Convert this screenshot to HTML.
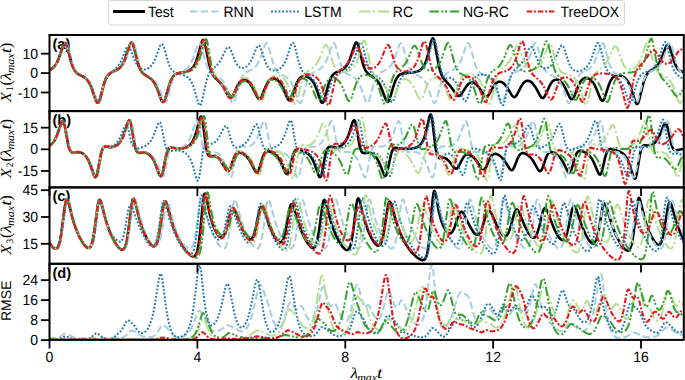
<!DOCTYPE html>
<html><head><meta charset="utf-8"><style>
html,body{margin:0;padding:0;background:#fff;}
svg{display:block;text-rendering:geometricPrecision;}
.t{font-family:"Liberation Sans",sans-serif;font-size:14px;fill:#000;}
.m{font-family:"Liberation Serif",serif;font-size:14px;fill:#000;}
</style></head><body>
<svg width="685" height="380" viewBox="0 0 685 380">
<defs>
<clipPath id="c0"><rect x="49.5" y="35.0" width="634.3" height="76.1"/></clipPath>
<clipPath id="c1"><rect x="49.5" y="111.1" width="634.3" height="76.30000000000001"/></clipPath>
<clipPath id="c2"><rect x="49.5" y="187.4" width="634.3" height="76.4"/></clipPath>
<clipPath id="c3"><rect x="49.5" y="263.8" width="634.3" height="76.09999999999997"/></clipPath>
</defs>
<text class="t" x="52.4" y="48.8" style="font-weight:bold;font-size:14.7px">(a)</text>
<text class="t" x="52.4" y="124.9" style="font-weight:bold;font-size:14.7px">(b)</text>
<text class="t" x="52.4" y="201.2" style="font-weight:bold;font-size:14.7px">(c)</text>
<text class="t" x="52.4" y="277.6" style="font-weight:bold;font-size:14.7px">(d)</text>
<g clip-path="url(#c0)" fill="none" stroke-linejoin="round">
<path d="M47.7 71.0 L50.4 69.7 L52.5 68.4 L54.2 66.7 L55.9 64.5 L57.3 61.9 L58.7 58.6 L63.4 44.9 L64.4 43.3 L64.9 43.0 L65.4 43.1 L66.2 44.1 L67.0 46.2 L71.4 62.8 L72.6 66.5 L74.0 69.5 L75.4 71.6 L77.0 73.2 L78.7 74.4 L82.6 76.3 L84.4 77.4 L86.3 79.0 L88.0 81.0 L89.7 83.8 L91.2 87.2 L96.0 100.9 L97.0 102.5 L97.5 102.8 L97.9 102.8 L98.8 101.9 L99.8 99.6 L104.0 83.8 L105.4 79.9 L106.7 77.0 L108.2 74.9 L109.8 73.4 L111.5 72.3 L116.0 70.4 L118.0 69.3 L120.0 67.7 L121.8 65.6 L123.5 62.8 L125.1 59.2 L129.9 44.6 L130.9 43.0 L131.3 42.6 L131.7 42.6 L132.1 42.8 L132.7 43.5 L133.6 45.9 L137.8 62.7 L139.2 66.9 L140.5 69.9 L141.8 72.0 L143.3 73.6 L144.9 74.9 L150.2 78.1 L152.0 79.7 L153.5 81.6 L155.0 84.1 L156.6 87.3 L161.3 100.0 L162.3 101.6 L162.8 102.0 L163.3 102.0 L163.8 101.7 L164.3 101.1 L165.3 98.8 L168.9 86.2 L170.5 81.5 L171.9 78.4 L173.4 76.1 L175.1 74.6 L177.2 73.5 L179.4 72.9 L185.6 71.8 L188.9 70.6 L191.6 68.8 L193.9 66.0 L195.6 62.7 L197.2 58.4 L201.7 42.0 L202.4 40.3 L202.8 39.9 L203.2 39.8 L203.6 40.0 L204.0 40.7 L204.9 43.2 L209.2 64.4 L210.6 69.4 L212.0 73.1 L213.1 75.2 L214.5 77.1 L219.4 82.0 L221.6 84.6 L223.7 87.9 L227.8 95.5 L228.8 96.9 L229.7 97.6 L230.5 97.8 L231.2 97.6 L231.8 97.1 L232.6 96.1 L233.9 93.7 L237.3 86.0 L239.5 82.5 L240.7 81.3 L241.8 80.5 L242.9 80.0 L244.2 79.9 L245.6 80.2 L247.0 80.9 L248.4 81.9 L249.7 83.3 L252.4 87.4 L257.4 97.3 L258.6 98.7 L259.2 98.9 L259.8 98.8 L260.8 97.9 L261.8 96.1 L265.9 86.0 L268.1 81.8 L269.4 80.2 L270.7 79.2 L272.0 78.6 L273.5 78.4 L275.2 78.8 L276.8 79.6 L278.5 81.0 L280.0 82.7 L281.4 85.0 L282.8 87.6 L287.4 98.4 L288.6 100.0 L289.1 100.3 L289.6 100.3 L290.7 99.4 L291.7 97.5 L295.9 85.1 L297.1 82.3 L298.3 80.1 L299.7 78.3 L301.2 77.0 L302.9 76.3 L304.7 76.2 L307.0 76.6 L309.2 77.8 L311.3 79.5 L313.0 81.7 L314.6 84.4 L316.0 87.7 L320.5 100.6 L321.4 102.3 L321.9 102.7 L322.4 102.8 L322.8 102.7 L323.3 102.1 L324.3 99.8 L328.6 83.8 L330.0 79.9 L331.4 77.0 L332.8 74.9 L334.4 73.4 L336.3 72.3 L340.7 70.5 L342.7 69.4 L344.7 67.8 L346.5 65.7 L348.3 62.8 L349.9 59.2 L354.8 44.5 L355.6 43.0 L356.0 42.6 L356.4 42.5 L356.9 42.7 L357.4 43.3 L358.3 45.6 L362.6 62.9 L364.0 67.0 L365.3 70.1 L366.6 72.1 L368.1 73.8 L369.7 75.0 L374.8 78.2 L376.5 79.8 L378.1 81.7 L379.6 84.1 L381.1 87.3 L385.8 99.7 L386.8 101.4 L387.3 101.8 L387.7 101.9 L388.2 101.6 L388.7 101.0 L389.8 98.6 L393.5 86.1 L395.2 81.2 L396.8 78.0 L398.5 75.8 L400.4 74.3 L402.8 73.5 L405.4 73.1 L413.2 72.4 L417.3 71.5 L419.0 70.8 L420.5 69.8 L421.9 68.6 L423.1 67.1 L424.8 64.2 L426.4 60.1 L428.0 54.5 L431.1 41.4 L432.0 39.1 L432.4 38.5 L432.7 38.3 L433.2 38.5 L433.6 39.1 L434.4 41.8 L438.8 65.4 L440.2 71.0 L441.7 75.2 L442.7 77.1 L443.9 78.9 L450.2 85.8 L456.0 93.9 L457.3 95.3 L458.6 95.9 L459.3 95.9 L460.0 95.6 L461.3 94.3 L466.0 86.9 L468.0 84.3 L470.0 82.9 L472.1 82.4 L473.2 82.6 L474.3 83.0 L476.6 84.6 L479.0 87.5 L484.2 95.2 L485.6 96.4 L486.3 96.5 L487.0 96.4 L488.0 95.7 L489.1 94.4 L493.3 86.9 L495.3 84.0 L496.4 82.9 L497.5 82.2 L498.6 81.8 L499.8 81.7 L501.0 81.9 L502.2 82.3 L503.4 83.2 L504.6 84.3 L507.1 87.5 L512.0 95.6 L513.4 96.9 L514.0 97.2 L514.6 97.2 L515.7 96.5 L516.8 95.0 L521.1 86.6 L523.1 83.4 L524.2 82.3 L525.4 81.4 L526.6 80.9 L527.8 80.7 L529.1 81.0 L530.5 81.6 L531.8 82.6 L533.1 83.9 L535.7 87.5 L540.5 96.4 L541.8 97.8 L542.9 98.1 L544.0 97.4 L545.1 95.7 L549.4 86.2 L551.5 82.6 L552.7 81.2 L553.9 80.3 L555.1 79.7 L556.4 79.6 L557.9 79.8 L559.4 80.5 L560.9 81.7 L562.4 83.3 L565.0 87.5 L569.7 97.4 L570.9 98.9 L571.9 99.2 L572.4 99.0 L573.0 98.5 L574.1 96.7 L578.4 85.8 L580.6 81.5 L581.9 79.9 L583.1 78.8 L584.6 78.1 L586.1 77.9 L587.9 78.3 L589.7 79.2 L591.4 80.7 L593.0 82.6 L594.5 84.9 L595.8 87.6 L600.4 98.8 L601.5 100.4 L602.4 100.9 L603.0 100.6 L603.5 100.1 L604.5 98.2 L608.9 84.7 L610.1 81.8 L611.4 79.4 L612.8 77.5 L614.4 76.2 L616.3 75.5 L618.4 75.3 L621.1 75.8 L623.6 77.0 L625.8 78.8 L627.7 81.1 L629.3 84.0 L630.8 87.6 L635.4 101.9 L636.4 103.6 L636.8 103.9 L637.2 104.0 L638.1 103.1 L639.0 100.8 L643.3 83.2 L644.6 79.2 L645.9 76.0 L647.2 73.9 L648.6 72.2 L650.2 71.0 L655.3 67.5 L656.9 66.0 L658.3 64.2 L659.8 61.7 L661.3 58.7 L665.9 46.9 L666.8 45.4 L667.7 44.8 L668.2 44.9 L668.7 45.4 L669.8 47.3 L674.6 62.7 L676.1 66.3 L677.7 68.9 L679.8 70.8 L682.1 71.8 L685.4 72.0 L689.0 71.5" stroke="#000000" stroke-width="2.6"/>
<path d="M48.8 70.6 L51.1 69.4 L53.1 68.0 L54.9 66.2 L56.5 63.9 L58.0 61.3 L59.5 58.0 L64.2 45.0 L65.3 43.3 L65.9 43.0 L66.3 43.1 L67.2 44.2 L68.1 46.6 L72.2 63.0 L73.4 66.7 L74.7 69.7 L76.0 71.7 L77.5 73.3 L79.1 74.4 L82.9 76.4 L84.6 77.5 L86.5 79.1 L88.0 81.1 L89.6 83.7 L91.2 87.1 L96.0 100.8 L97.0 102.5 L97.5 102.8 L97.9 102.8 L98.8 102.0 L99.7 99.9 L104.1 83.5 L105.5 79.6 L106.9 76.8 L108.3 74.8 L109.9 73.3 L111.8 72.2 L116.3 70.4 L118.4 69.2 L120.6 67.7 L122.5 65.5 L124.4 62.7 L126.1 59.0 L131.2 44.6 L132.1 43.0 L132.6 42.6 L133.1 42.6 L133.5 42.9 L134.0 43.5 L134.9 45.8 L139.2 63.1 L140.6 67.3 L142.0 70.3 L143.3 72.3 L144.8 73.8 L146.4 75.0 L152.1 78.3 L154.0 80.0 L155.7 82.0 L157.4 84.6 L159.0 87.9 L163.8 100.2 L164.8 101.7 L165.6 102.0 L166.0 101.8 L166.5 101.3 L167.4 99.2 L171.6 83.5 L172.8 80.0 L174.0 77.4 L175.1 75.8 L176.4 74.6 L178.0 73.6 L182.4 71.7 L184.6 70.5 L186.8 68.7 L188.8 66.5 L190.8 63.2 L192.6 59.5 L197.6 45.2 L198.5 43.6 L199.0 43.2 L199.4 43.1 L199.9 43.4 L200.3 43.9 L201.4 46.3 L205.7 62.5 L207.1 66.5 L208.5 69.4 L209.9 71.5 L211.4 73.1 L213.2 74.2 L217.3 76.1 L219.3 77.3 L221.2 78.8 L223.0 80.9 L224.6 83.6 L226.3 87.2 L231.1 100.9 L232.0 102.6 L232.5 103.0 L233.0 103.1 L233.4 102.9 L233.9 102.3 L234.9 100.1 L239.3 83.6 L240.6 79.8 L242.0 76.8 L243.4 74.8 L245.1 73.1 L246.8 72.0 L251.0 70.0 L252.9 68.9 L254.9 67.3 L256.6 65.3 L258.3 62.6 L260.0 58.9 L264.8 45.2 L265.7 43.6 L266.1 43.2 L266.6 43.1 L267.1 43.3 L267.5 43.9 L268.5 46.2 L273.0 62.8 L274.3 66.5 L275.7 69.4 L277.1 71.5 L278.7 73.1 L280.5 74.2 L284.5 76.1 L286.5 77.3 L288.4 78.8 L290.2 80.9 L291.9 83.7 L293.5 87.1 L298.4 101.1 L299.3 102.7 L300.2 103.1 L300.6 102.9 L301.1 102.4 L302.1 100.1 L306.5 83.6 L307.8 79.9 L309.2 76.9 L310.6 74.8 L312.3 73.1 L314.0 72.0 L318.2 70.0 L320.1 68.9 L322.1 67.3 L323.8 65.3 L325.5 62.6 L327.1 59.0 L332.0 45.2 L332.9 43.6 L333.3 43.2 L333.8 43.1 L334.3 43.3 L334.7 43.9 L335.7 46.2 L340.2 62.7 L341.5 66.4 L342.9 69.4 L344.2 71.5 L345.9 73.1 L347.7 74.2 L351.8 76.2 L353.8 77.3 L355.7 78.9 L357.5 81.0 L359.1 83.7 L360.8 87.3 L365.6 101.1 L366.5 102.6 L367.3 103.1 L367.8 102.9 L368.3 102.4 L369.3 100.1 L373.7 83.6 L375.1 79.7 L376.5 76.7 L377.9 74.7 L379.5 73.1 L381.2 72.0 L385.4 70.1 L387.3 68.9 L389.3 67.3 L391.0 65.3 L392.8 62.4 L394.3 59.0 L399.1 45.3 L400.1 43.6 L400.5 43.2 L401.0 43.1 L401.5 43.3 L401.9 43.9 L402.9 46.2 L407.4 62.7 L408.7 66.4 L410.0 69.4 L411.4 71.4 L413.1 73.1 L414.9 74.2 L419.0 76.2 L421.0 77.3 L422.9 78.9 L424.7 81.0 L426.3 83.7 L428.0 87.3 L432.8 101.0 L433.7 102.6 L434.5 103.1 L435.0 102.9 L435.5 102.4 L436.5 100.2 L441.0 83.4 L442.3 79.7 L443.7 76.8 L445.1 74.7 L446.7 73.1 L448.5 72.0 L452.6 70.1 L454.5 68.9 L456.4 67.4 L458.2 65.3 L460.0 62.5 L461.5 59.1 L466.3 45.3 L467.3 43.6 L467.7 43.2 L468.2 43.1 L468.6 43.3 L469.1 43.8 L470.1 46.1 L474.6 62.6 L475.9 66.4 L477.2 69.3 L478.6 71.4 L480.3 73.1 L482.0 74.2 L486.2 76.2 L488.1 77.3 L490.1 78.9 L491.8 80.9 L493.5 83.6 L495.2 87.2 L500.0 101.0 L500.9 102.6 L501.7 103.1 L502.2 102.9 L502.8 102.3 L503.8 100.0 L508.2 83.4 L509.5 79.7 L510.9 76.8 L512.3 74.7 L513.9 73.1 L515.7 72.0 L519.8 70.1 L521.7 68.9 L523.6 67.4 L525.4 65.3 L527.2 62.5 L528.7 59.1 L533.6 45.1 L534.5 43.6 L535.4 43.1 L535.8 43.3 L536.3 43.8 L537.3 46.1 L541.8 62.6 L543.0 66.3 L544.4 69.3 L545.8 71.4 L547.5 73.1 L549.2 74.2 L553.4 76.2 L555.3 77.3 L557.3 78.9 L559.0 80.9 L560.8 83.8 L562.4 87.2 L567.2 101.0 L568.1 102.6 L568.9 103.1 L569.4 102.9 L569.9 102.3 L571.0 100.0 L575.4 83.5 L576.7 79.8 L578.1 76.8 L579.5 74.7 L581.1 73.1 L582.9 72.0 L587.0 70.0 L589.0 68.9 L590.9 67.3 L592.7 65.2 L594.3 62.5 L596.0 58.9 L600.8 45.2 L601.7 43.6 L602.6 43.1 L603.0 43.3 L603.5 43.8 L604.5 46.0 L608.9 62.5 L610.3 66.5 L611.7 69.5 L613.1 71.5 L614.7 73.1 L616.4 74.2 L620.6 76.1 L622.5 77.3 L624.5 78.9 L626.2 80.9 L628.0 83.8 L629.6 87.2 L634.4 100.9 L635.3 102.6 L635.8 103.0 L636.2 103.1 L636.7 102.9 L637.1 102.3 L638.2 100.0 L642.6 83.5 L643.9 79.8 L645.3 76.8 L646.7 74.8 L648.3 73.1 L650.1 72.0 L654.2 70.0 L656.2 68.9 L658.1 67.3 L659.9 65.3 L661.6 62.4 L663.2 58.9 L668.0 45.2 L668.9 43.6 L669.8 43.1 L670.2 43.3 L670.8 43.9 L671.8 46.3 L676.1 62.5 L677.4 66.3 L678.7 69.1 L680.2 71.4 L681.9 73.0 L683.8 74.3 L687.2 75.9" stroke="#a6cee3" stroke-width="2.0" stroke-dasharray="7.4 3.2"/>
<path d="M48.8 70.6 L51.0 69.4 L53.0 68.0 L54.7 66.2 L56.3 64.0 L57.7 61.4 L59.2 58.1 L63.8 45.1 L64.9 43.3 L65.4 43.0 L65.9 43.1 L66.7 44.2 L67.6 46.4 L71.7 62.8 L73.0 66.7 L74.4 69.7 L75.7 71.8 L77.2 73.3 L78.9 74.4 L83.0 76.5 L85.0 77.6 L87.0 79.3 L88.9 81.5 L90.6 84.3 L92.3 87.9 L97.0 101.0 L97.8 102.4 L98.3 102.8 L98.7 102.9 L99.5 102.0 L100.5 99.7 L104.4 83.9 L105.6 80.2 L106.8 77.2 L108.8 74.4 L113.2 70.9 L115.1 69.3 L117.3 66.8 L119.7 63.6 L121.9 59.6 L126.0 49.1 L126.7 47.5 L127.5 46.5 L128.1 46.2 L128.7 46.3 L129.3 46.8 L130.0 47.9 L134.8 60.6 L136.2 63.5 L137.7 65.8 L139.2 67.5 L140.9 68.7 L142.7 69.4 L144.6 69.5 L146.8 69.1 L148.9 68.0 L150.7 66.4 L152.5 64.2 L154.0 61.7 L155.4 58.6 L160.0 46.1 L161.0 44.4 L161.5 44.0 L161.9 44.0 L162.9 44.8 L163.8 46.8 L168.3 62.5 L169.6 66.1 L171.0 68.8 L172.6 70.9 L174.6 72.4 L176.7 73.3 L182.3 74.7 L185.1 75.7 L187.7 77.3 L189.8 79.5 L191.5 82.1 L193.0 85.4 L194.7 90.5 L198.2 102.8 L199.1 104.9 L199.6 105.4 L200.0 105.5 L200.4 105.2 L200.8 104.6 L201.8 102.0 L206.0 82.5 L207.4 77.8 L208.7 74.4 L209.9 72.2 L211.3 70.4 L216.7 65.5 L219.2 62.4 L221.6 58.4 L225.8 49.6 L226.7 48.1 L227.5 47.4 L228.1 47.1 L228.8 47.2 L229.5 47.8 L230.3 49.0 L231.5 51.7 L235.0 60.8 L236.2 63.2 L237.4 65.1 L238.6 66.5 L239.8 67.4 L241.2 68.0 L242.6 68.1 L244.3 67.7 L246.0 66.9 L247.7 65.5 L249.2 63.6 L250.7 61.4 L252.0 58.7 L256.8 47.4 L258.0 45.8 L258.6 45.5 L259.1 45.6 L260.0 46.6 L260.9 48.5 L265.2 61.4 L266.4 64.3 L267.6 66.6 L269.1 68.5 L270.7 69.8 L272.6 70.5 L274.7 70.6 L277.2 70.1 L279.6 68.9 L281.6 67.1 L283.5 64.8 L285.0 62.0 L286.5 58.6 L291.0 44.8 L292.0 43.1 L292.4 42.7 L292.8 42.6 L293.2 42.8 L293.7 43.5 L294.7 45.8 L299.0 62.9 L300.3 66.7 L301.6 69.8 L302.9 71.9 L304.4 73.6 L306.0 74.8 L311.5 78.1 L313.2 79.7 L314.8 81.6 L316.3 84.2 L317.8 87.4 L322.5 100.0 L323.4 101.6 L323.9 102.0 L324.3 102.1 L324.8 101.9 L325.3 101.4 L326.3 99.3 L330.8 83.9 L332.1 80.3 L333.5 77.6 L334.9 75.8 L336.5 74.4 L338.1 73.5 L342.6 72.1 L345.1 70.9 L347.9 68.9 L350.5 66.1 L352.4 63.2 L354.1 59.5 L359.1 44.5 L360.0 43.0 L360.7 42.5 L361.1 42.7 L361.6 43.3 L362.7 45.7 L367.0 63.0 L368.3 66.9 L369.6 69.9 L370.9 72.0 L372.4 73.7 L374.0 74.9 L379.3 78.2 L381.0 79.7 L382.5 81.6 L384.0 84.1 L385.6 87.3 L390.2 99.8 L391.2 101.5 L391.7 101.9 L392.2 102.0 L392.7 101.7 L393.2 101.1 L394.3 98.7 L397.9 86.0 L399.5 81.3 L401.0 78.3 L402.6 76.0 L404.4 74.5 L406.6 73.5 L408.9 73.0 L415.6 72.1 L419.1 71.0 L420.7 70.2 L422.1 69.2 L423.4 67.9 L424.5 66.4 L426.0 63.6 L427.4 60.0 L429.0 54.7 L432.3 42.0 L433.1 39.9 L433.5 39.3 L434.0 39.2 L434.4 39.5 L434.8 40.2 L435.7 42.9 L440.0 65.0 L441.8 72.1 L443.3 75.9 L444.3 77.5 L445.4 78.3 L446.6 78.5 L449.6 77.9 L451.0 78.1 L453.0 79.2 L455.0 81.1 L456.6 83.4 L458.1 86.2 L459.6 89.7 L462.9 98.1 L463.7 99.9 L464.5 100.9 L465.2 101.3 L465.7 101.2 L466.4 100.4 L467.1 99.2 L468.2 96.2 L472.0 83.8 L473.5 80.3 L474.9 77.9 L476.6 76.1 L478.5 75.0 L480.7 74.5 L483.5 74.5 L486.7 75.2 L489.3 76.5 L491.5 78.3 L493.5 80.8 L495.1 83.9 L496.6 87.8 L501.1 103.1 L501.9 104.9 L502.7 105.3 L503.1 105.1 L503.6 104.5 L504.5 101.9 L508.7 82.6 L510.1 78.0 L511.4 74.5 L512.6 72.4 L514.0 70.6 L519.6 65.6 L522.1 62.5 L524.6 58.3 L528.7 49.4 L529.7 47.9 L530.4 47.1 L531.1 46.9 L531.8 47.1 L532.5 47.7 L533.1 48.8 L534.3 51.4 L537.9 60.9 L539.1 63.4 L540.3 65.3 L541.4 66.7 L542.7 67.7 L544.1 68.3 L545.6 68.4 L547.4 68.0 L549.2 67.1 L550.9 65.7 L552.5 63.8 L553.9 61.5 L555.3 58.8 L560.0 47.1 L561.2 45.5 L561.8 45.2 L562.3 45.3 L563.1 46.2 L564.1 48.1 L568.4 61.6 L569.6 64.6 L570.9 67.0 L572.4 69.0 L574.1 70.3 L576.0 71.1 L578.4 71.2 L581.2 70.7 L583.8 69.5 L586.0 67.8 L588.0 65.4 L589.7 62.6 L591.4 58.8 L596.2 44.9 L597.1 43.4 L597.9 42.9 L598.3 43.0 L598.8 43.6 L599.9 46.0 L604.2 62.7 L605.4 66.5 L606.8 69.6 L608.2 71.7 L609.7 73.3 L611.4 74.5 L615.3 76.5 L617.1 77.6 L618.9 79.3 L620.5 81.2 L622.1 83.9 L623.7 87.2 L628.4 100.5 L629.3 102.1 L630.2 102.6 L630.6 102.5 L631.1 102.0 L632.1 99.8 L636.6 83.8 L637.9 80.0 L639.3 77.2 L640.7 75.1 L642.4 73.6 L644.4 72.5 L649.0 70.8 L651.2 69.7 L653.4 68.1 L655.3 65.9 L657.1 63.0 L658.8 59.1 L663.5 44.2 L664.4 42.5 L665.1 42.0 L665.5 42.1 L666.1 42.7 L667.0 45.0 L671.4 63.3 L672.8 67.5 L674.1 70.7 L675.5 72.9 L677.0 74.6 L682.2 78.3 L684.1 80.0 L685.7 81.9 L687.2 84.2" stroke="#1f78b4" stroke-width="2.0" stroke-dasharray="1.9 1.8"/>
<path d="M48.8 70.6 L51.1 69.3 L53.0 67.9 L54.6 66.2 L56.1 64.0 L57.5 61.5 L58.8 58.3 L63.3 45.0 L64.4 43.2 L65.0 43.0 L65.5 43.1 L66.2 44.2 L67.1 46.3 L71.3 62.6 L72.7 66.6 L74.0 69.5 L75.4 71.6 L77.0 73.2 L78.7 74.4 L82.6 76.3 L84.4 77.5 L86.3 79.0 L87.9 81.0 L89.6 83.7 L91.1 87.0 L96.0 100.8 L97.0 102.5 L97.5 102.8 L97.9 102.8 L98.8 102.0 L99.7 99.8 L104.0 83.7 L105.4 79.8 L106.7 77.0 L108.2 74.9 L109.8 73.3 L111.6 72.3 L115.9 70.4 L117.9 69.3 L120.0 67.7 L121.7 65.7 L123.5 62.7 L125.1 59.1 L130.0 44.6 L130.9 43.0 L131.3 42.6 L131.8 42.6 L132.6 43.4 L133.5 45.7 L137.9 62.8 L139.1 66.7 L140.5 69.8 L141.8 71.9 L143.3 73.6 L144.9 74.8 L150.2 78.1 L152.0 79.7 L153.5 81.6 L155.1 84.1 L156.6 87.4 L161.3 99.9 L162.3 101.6 L162.8 102.0 L163.2 102.0 L163.7 101.8 L164.2 101.2 L165.3 98.7 L168.9 86.1 L170.5 81.4 L171.9 78.3 L173.5 76.0 L175.2 74.5 L177.4 73.5 L179.5 72.9 L186.1 71.7 L190.0 70.4 L191.8 69.4 L193.3 68.2 L194.7 66.7 L196.0 65.1 L197.6 62.3 L199.1 58.7 L200.8 53.6 L203.7 42.3 L204.6 40.3 L205.2 39.8 L205.6 40.0 L206.0 40.7 L206.8 43.2 L210.5 64.5 L211.7 69.6 L213.0 73.5 L214.1 75.6 L215.2 77.4 L219.7 82.2 L221.9 84.9 L223.8 88.0 L227.6 95.2 L228.6 96.7 L229.5 97.5 L230.3 97.8 L231.0 97.7 L231.8 97.1 L232.6 96.0 L234.2 93.1 L238.1 84.2 L239.2 82.0 L240.4 80.3 L241.5 79.1 L242.6 78.4 L243.9 78.0 L245.3 77.9 L247.0 78.4 L248.7 79.3 L250.3 80.7 L251.9 82.6 L253.3 84.9 L254.7 87.6 L259.3 99.0 L260.5 100.6 L261.1 100.9 L261.6 100.8 L262.6 99.8 L263.5 97.8 L267.7 84.7 L268.9 81.8 L270.2 79.4 L271.7 77.4 L273.4 76.1 L275.4 75.4 L277.6 75.3 L279.9 75.8 L282.2 77.1 L284.3 79.1 L286.2 81.6 L287.6 84.3 L289.1 87.8 L293.6 101.8 L294.4 103.4 L294.8 103.9 L295.3 104.0 L295.7 103.8 L296.2 103.2 L297.1 100.9 L301.5 83.2 L302.7 79.2 L304.1 76.0 L305.4 73.9 L306.8 72.2 L308.3 70.9 L313.4 67.5 L315.0 65.9 L316.5 64.0 L319.0 59.6 L323.5 48.0 L324.4 46.1 L325.2 45.1 L325.9 44.8 L326.5 45.0 L327.1 45.7 L327.7 47.0 L328.8 50.0 L332.7 62.5 L334.1 65.9 L335.6 68.5 L337.3 70.3 L339.4 71.4 L341.8 71.9 L344.8 71.8 L348.0 71.1 L350.7 69.9 L353.0 68.0 L354.9 65.4 L356.6 62.3 L358.1 58.3 L362.5 42.9 L363.3 41.1 L364.1 40.5 L364.5 40.7 L365.0 41.3 L365.9 43.9 L370.1 63.7 L371.5 68.5 L372.9 72.2 L374.1 74.3 L375.5 76.1 L380.7 81.0 L383.2 84.0 L385.6 87.9 L389.7 96.5 L390.7 98.0 L391.6 98.7 L392.2 98.8 L392.9 98.6 L394.3 96.8 L395.5 94.3 L398.9 85.7 L401.1 81.7 L402.0 80.5 L403.0 79.6 L404.0 79.1 L405.1 79.0 L406.5 79.3 L407.9 80.0 L409.5 81.3 L411.1 83.1 L412.4 85.1 L413.8 87.5 L418.6 97.8 L419.9 99.3 L420.5 99.5 L421.0 99.4 L421.9 98.6 L422.9 96.7 L427.1 85.6 L429.3 81.2 L430.6 79.5 L431.9 78.4 L433.4 77.7 L435.1 77.5 L436.9 77.9 L438.8 78.8 L440.6 80.3 L442.2 82.3 L443.6 84.6 L445.1 87.5 L449.7 99.3 L450.8 101.0 L451.3 101.3 L451.8 101.3 L452.8 100.4 L453.7 98.5 L458.1 84.3 L459.5 81.0 L460.8 78.5 L462.4 76.5 L464.3 75.2 L466.5 74.5 L469.2 74.4 L472.5 75.0 L475.4 76.2 L477.8 78.1 L479.8 80.6 L481.5 83.8 L483.0 87.7 L487.5 103.2 L488.4 104.9 L489.1 105.4 L489.6 105.2 L490.0 104.6 L490.9 102.1 L495.2 82.7 L496.5 77.9 L497.9 74.5 L499.1 72.3 L500.4 70.5 L506.0 65.5 L508.7 62.2 L510.9 58.3 L515.0 49.2 L516.5 46.7 L517.2 46.2 L517.9 46.2 L518.6 46.7 L519.3 47.9 L520.5 50.8 L524.2 61.4 L525.4 64.3 L526.7 66.4 L528.0 68.0 L529.5 69.0 L531.1 69.6 L532.8 69.7 L534.9 69.2 L537.0 68.0 L538.9 66.4 L540.6 64.2 L542.0 61.7 L543.5 58.5 L548.0 46.0 L549.0 44.3 L549.8 43.8 L550.3 43.9 L550.8 44.4 L551.8 46.6 L556.3 62.5 L557.6 66.2 L559.0 68.9 L560.5 71.0 L562.3 72.5 L564.3 73.5 L569.3 75.0 L571.6 76.0 L574.0 77.6 L575.9 79.8 L577.6 82.3 L579.1 85.6 L580.8 90.4 L584.2 102.0 L585.2 104.2 L585.6 104.7 L586.0 104.8 L586.5 104.6 L587.0 103.9 L587.9 101.4 L592.1 82.8 L593.4 78.5 L594.8 75.2 L596.0 73.1 L597.4 71.2 L603.3 66.3 L606.1 63.0 L608.7 58.4 L612.7 49.0 L614.2 46.7 L614.9 46.2 L615.6 46.2 L616.3 46.8 L617.1 48.0 L618.2 50.8 L622.0 61.5 L623.2 64.3 L624.5 66.4 L625.9 68.0 L627.3 69.0 L628.9 69.5 L630.6 69.5 L632.7 69.0 L634.9 67.8 L636.7 66.0 L638.4 63.7 L639.8 61.3 L641.1 58.1 L645.5 45.2 L646.3 43.6 L647.2 43.1 L647.6 43.2 L648.1 43.8 L649.1 46.0 L653.4 62.5 L654.7 66.3 L656.1 69.3 L657.4 71.4 L659.0 73.1 L660.8 74.3 L664.9 76.2 L666.8 77.4 L668.8 79.1 L670.5 81.1 L671.9 83.5 L673.3 86.6 L677.8 99.7 L678.7 101.6 L679.4 102.7 L680.0 103.0 L680.6 102.8 L681.2 102.0 L681.9 100.4 L683.0 96.7 L685.7 86.0 L687.2 81.3" stroke="#b2df8a" stroke-width="1.9" stroke-dasharray="11.3 2.6 2.2 2.6"/>
<path d="M48.8 70.6 L51.1 69.3 L53.0 67.9 L54.6 66.2 L56.1 64.0 L57.5 61.5 L58.8 58.3 L63.3 45.0 L64.4 43.2 L65.0 43.0 L65.5 43.1 L66.2 44.2 L67.1 46.3 L71.3 62.6 L72.7 66.6 L74.0 69.5 L75.4 71.6 L77.0 73.2 L78.7 74.4 L82.6 76.3 L84.4 77.5 L86.3 79.0 L87.9 81.0 L89.6 83.7 L91.1 87.0 L96.0 100.8 L97.0 102.5 L97.5 102.8 L97.9 102.8 L98.8 102.0 L99.7 99.8 L104.0 83.7 L105.4 79.8 L106.7 77.0 L108.2 74.9 L109.8 73.3 L111.6 72.3 L115.9 70.4 L117.9 69.3 L120.0 67.7 L121.7 65.7 L123.5 62.7 L125.1 59.1 L130.0 44.6 L130.9 43.0 L131.3 42.6 L131.8 42.6 L132.6 43.4 L133.5 45.7 L137.9 62.8 L139.1 66.7 L140.5 69.8 L141.8 71.9 L143.3 73.6 L144.9 74.8 L150.2 78.1 L152.0 79.7 L153.5 81.6 L155.1 84.1 L156.6 87.4 L161.3 99.9 L162.3 101.6 L162.8 102.0 L163.2 102.0 L163.7 101.8 L164.2 101.2 L165.3 98.7 L168.9 86.1 L170.6 81.2 L172.1 78.0 L173.7 75.8 L175.6 74.3 L177.8 73.3 L180.2 72.8 L186.6 72.1 L190.4 70.9 L192.2 70.0 L193.7 68.8 L195.2 67.4 L196.4 65.8 L198.1 62.8 L199.7 58.9 L201.3 53.7 L204.4 41.8 L205.2 39.7 L205.9 39.1 L206.3 39.4 L206.7 40.0 L207.4 42.5 L211.4 65.3 L212.7 70.4 L214.1 74.4 L215.2 76.4 L216.3 78.0 L223.6 85.6 L226.0 88.9 L230.1 95.2 L231.0 96.3 L231.9 96.9 L232.5 97.0 L233.1 96.8 L234.3 95.4 L238.6 86.6 L240.6 83.4 L241.6 82.3 L242.6 81.6 L243.7 81.2 L244.9 81.0 L246.1 81.2 L247.4 81.8 L248.6 82.7 L249.9 83.9 L252.5 87.3 L257.5 96.3 L258.9 97.6 L259.6 97.8 L260.2 97.7 L261.2 96.9 L262.2 95.3 L266.3 86.5 L268.4 82.9 L269.6 81.6 L270.8 80.6 L272.0 80.1 L273.3 80.0 L274.8 80.2 L276.2 80.9 L277.6 82.0 L279.0 83.5 L281.6 87.5 L286.4 97.0 L287.6 98.5 L288.2 98.8 L288.7 98.8 L289.8 98.1 L290.9 96.4 L295.1 85.9 L297.3 81.8 L298.6 80.3 L299.8 79.2 L301.2 78.7 L302.6 78.5 L304.3 78.8 L306.0 79.7 L307.6 81.1 L309.2 82.9 L310.5 85.0 L311.9 87.6 L316.5 98.4 L317.7 99.9 L318.2 100.2 L318.7 100.3 L319.7 99.5 L320.7 97.7 L324.7 86.3 L326.9 81.7 L328.2 80.0 L329.6 78.7 L331.2 77.9 L332.8 77.7 L334.6 78.1 L336.5 79.0 L338.2 80.5 L339.9 82.4 L341.3 84.8 L342.7 87.5 L347.3 99.1 L348.4 100.7 L349.4 101.1 L349.9 100.8 L350.4 100.2 L351.4 98.2 L355.7 84.7 L357.0 81.5 L358.3 79.1 L359.8 77.1 L361.5 75.8 L363.4 75.1 L365.7 74.9 L368.7 75.4 L371.4 76.6 L373.7 78.5 L375.6 80.9 L377.2 83.8 L378.8 87.6 L383.3 102.4 L384.2 104.0 L385.0 104.6 L385.4 104.4 L385.9 103.7 L386.8 101.4 L391.1 82.9 L392.4 78.7 L393.8 75.4 L395.0 73.4 L396.4 71.6 L397.8 70.3 L402.6 66.6 L404.1 65.1 L405.5 63.3 L407.8 59.2 L412.1 48.8 L412.9 47.2 L413.7 46.2 L414.4 45.7 L415.1 45.8 L415.7 46.4 L416.5 47.7 L417.7 50.7 L421.3 61.7 L422.6 64.6 L423.9 66.8 L425.2 68.4 L426.7 69.6 L428.4 70.2 L430.4 70.3 L432.8 69.7 L435.0 68.6 L437.0 66.8 L438.8 64.5 L440.3 61.8 L441.8 58.4 L446.2 45.2 L447.2 43.6 L448.0 43.0 L448.5 43.2 L449.0 43.8 L450.0 46.1 L454.2 62.3 L455.5 66.1 L456.8 69.0 L458.2 71.3 L459.8 73.0 L461.6 74.2 L465.7 76.2 L467.4 77.3 L469.1 78.8 L470.7 80.7 L472.2 83.4 L473.6 87.0 L478.2 101.8 L479.1 103.6 L479.6 104.0 L480.0 104.1 L480.4 103.9 L480.9 103.3 L481.9 100.9 L486.2 83.0 L487.4 79.0 L488.8 75.8 L490.1 73.7 L491.5 72.0 L493.0 70.7 L498.0 67.3 L499.6 65.7 L501.0 63.8 L503.5 59.4 L507.9 48.3 L508.8 46.4 L509.6 45.4 L510.2 45.0 L510.8 45.2 L511.5 45.9 L512.2 47.2 L513.3 50.2 L517.0 62.2 L518.4 65.4 L519.8 67.9 L521.4 69.7 L523.2 70.9 L525.3 71.4 L527.9 71.4 L530.8 70.7 L533.4 69.5 L535.5 67.7 L537.4 65.2 L538.9 62.4 L540.4 58.5 L544.9 43.5 L545.8 41.8 L546.5 41.2 L547.0 41.4 L547.5 42.1 L548.4 44.6 L552.6 63.4 L554.0 67.9 L555.3 71.3 L556.5 73.4 L557.9 75.1 L563.7 80.1 L566.5 83.4 L569.0 87.9 L573.1 97.1 L574.5 99.3 L575.3 99.8 L575.9 99.8 L576.6 99.2 L577.4 98.0 L578.7 95.1 L582.3 84.8 L583.5 82.2 L584.8 80.1 L586.0 78.6 L587.4 77.6 L588.9 77.1 L590.5 77.0 L592.6 77.5 L594.5 78.5 L596.3 80.1 L598.0 82.2 L599.4 84.7 L600.8 87.6 L605.4 99.8 L606.3 101.3 L607.2 101.9 L607.7 101.7 L608.2 101.2 L609.3 98.8 L613.1 86.0 L614.8 81.1 L616.3 78.1 L618.0 75.8 L619.9 74.4 L622.1 73.5 L624.5 73.1 L632.0 72.3 L635.9 71.4 L637.6 70.6 L639.0 69.6 L640.3 68.4 L641.5 66.9 L643.2 63.9 L644.7 60.1 L646.3 54.6 L649.4 41.7 L650.4 39.3 L650.8 38.7 L651.1 38.6 L651.6 38.8 L652.0 39.6 L652.8 42.3 L657.0 64.6 L658.3 70.0 L659.8 74.1 L660.9 76.4 L662.1 78.2 L668.8 85.6 L674.8 94.5 L675.9 95.7 L676.9 96.2 L677.9 96.2 L678.9 95.6 L680.6 93.5 L684.9 86.1 L687.2 83.4" stroke="#33a02c" stroke-width="2.0" stroke-dasharray="9.5 2.5 2 1.6 2 2.8"/>
<path d="M48.8 70.6 L51.1 69.3 L53.0 67.9 L54.6 66.2 L56.1 64.0 L57.5 61.5 L58.8 58.3 L63.3 45.0 L64.4 43.2 L65.0 43.0 L65.5 43.1 L66.2 44.2 L67.1 46.3 L71.3 62.6 L72.7 66.6 L74.0 69.5 L75.4 71.6 L77.0 73.2 L78.7 74.4 L82.6 76.3 L84.4 77.5 L86.3 79.0 L87.9 81.0 L89.6 83.7 L91.1 87.0 L96.0 100.8 L97.0 102.5 L97.5 102.8 L97.9 102.8 L98.8 102.0 L99.7 99.8 L104.0 83.7 L105.4 79.8 L106.7 77.0 L108.2 74.9 L109.8 73.3 L111.6 72.3 L115.9 70.4 L117.9 69.3 L120.0 67.7 L121.7 65.7 L123.5 62.7 L125.1 59.1 L130.0 44.6 L130.9 43.0 L131.3 42.6 L131.8 42.6 L132.6 43.4 L133.5 45.7 L137.9 62.8 L139.2 67.0 L140.6 70.0 L141.8 72.0 L143.4 73.7 L145.0 74.9 L150.4 78.2 L152.2 79.8 L153.7 81.6 L155.3 84.2 L156.8 87.3 L161.7 100.0 L162.7 101.6 L163.2 102.0 L163.6 102.0 L164.1 101.8 L164.6 101.1 L165.7 98.6 L169.2 86.1 L170.8 81.3 L172.2 78.3 L173.7 76.0 L175.4 74.5 L177.4 73.5 L179.5 72.9 L185.7 71.8 L189.2 70.5 L190.8 69.6 L192.2 68.4 L194.6 65.4 L196.4 62.1 L198.0 57.9 L202.5 41.8 L203.3 40.2 L204.0 39.8 L204.7 40.7 L205.6 43.3 L209.5 63.9 L210.8 68.9 L212.1 72.6 L213.2 74.8 L214.6 76.7 L219.6 81.5 L221.9 84.3 L224.1 87.9 L228.1 95.8 L229.2 97.3 L230.1 98.1 L230.8 98.3 L231.4 98.1 L232.1 97.5 L232.9 96.4 L234.2 93.9 L237.5 85.9 L239.8 82.0 L240.9 80.8 L242.1 79.9 L243.4 79.4 L244.7 79.3 L246.2 79.6 L247.7 80.3 L249.2 81.5 L250.6 83.1 L252.0 85.0 L253.3 87.4 L258.1 97.8 L259.4 99.3 L260.0 99.5 L260.6 99.4 L261.5 98.5 L262.6 96.7 L266.6 85.7 L268.9 81.2 L270.2 79.5 L271.5 78.3 L273.1 77.7 L274.7 77.5 L276.5 77.9 L278.4 78.8 L280.2 80.3 L281.8 82.3 L283.2 84.6 L284.7 87.6 L289.3 99.4 L290.4 101.0 L290.9 101.3 L291.4 101.3 L292.3 100.5 L293.3 98.5 L297.7 84.3 L299.0 81.1 L300.4 78.5 L302.0 76.5 L303.8 75.2 L306.0 74.5 L308.6 74.4 L311.8 75.0 L314.8 76.3 L317.1 78.1 L319.1 80.6 L320.8 83.8 L322.3 87.7 L326.8 103.0 L327.7 104.7 L328.4 105.3 L328.8 105.1 L329.3 104.4 L330.3 101.8 L334.5 82.6 L335.9 77.9 L337.2 74.5 L338.4 72.4 L339.8 70.6 L345.3 65.8 L347.9 62.7 L350.4 58.4 L354.6 49.2 L355.5 47.8 L356.3 47.0 L357.0 46.8 L357.7 47.0 L358.3 47.7 L359.0 48.8 L360.2 51.5 L363.7 60.8 L364.9 63.4 L366.1 65.3 L367.3 66.9 L368.6 67.8 L370.0 68.4 L371.6 68.6 L373.4 68.1 L375.2 67.2 L376.9 65.8 L378.5 63.8 L380.0 61.5 L381.3 58.7 L386.1 46.9 L387.2 45.3 L387.8 45.0 L388.3 45.1 L389.1 46.0 L390.0 47.9 L394.4 61.6 L395.6 64.8 L397.0 67.4 L398.6 69.4 L400.4 70.7 L402.6 71.4 L405.1 71.5 L408.1 70.9 L410.8 69.6 L413.1 67.8 L415.1 65.3 L416.7 62.3 L418.2 58.5 L422.7 43.6 L423.5 41.8 L424.3 41.3 L424.7 41.5 L425.2 42.2 L426.2 44.7 L430.4 63.3 L431.8 67.9 L433.1 71.2 L434.3 73.3 L435.7 75.1 L441.5 79.9 L444.3 83.2 L446.8 87.7 L451.0 97.3 L452.4 99.5 L453.2 100.0 L453.9 99.9 L454.6 99.3 L455.3 98.1 L456.5 95.3 L460.1 84.8 L461.4 82.0 L462.7 79.9 L464.0 78.4 L465.4 77.4 L466.9 76.9 L468.5 76.8 L470.6 77.2 L472.6 78.3 L474.5 79.9 L476.2 82.1 L477.6 84.5 L479.1 87.7 L483.5 99.9 L484.6 101.6 L485.1 102.1 L485.5 102.1 L485.9 102.0 L486.4 101.4 L487.4 99.3 L491.9 83.6 L493.3 80.0 L494.7 77.3 L496.2 75.2 L498.0 73.8 L500.0 72.8 L505.2 71.3 L507.5 70.3 L509.9 68.8 L511.9 66.6 L513.6 64.0 L515.2 60.6 L516.9 55.7 L520.3 44.0 L521.3 41.7 L521.7 41.3 L522.1 41.1 L522.5 41.4 L523.0 42.0 L523.9 44.4 L528.1 63.3 L529.5 67.9 L530.8 71.3 L532.0 73.5 L533.4 75.2 L539.2 80.2 L541.9 83.4 L544.4 87.9 L548.6 97.2 L549.5 98.7 L550.3 99.6 L551.0 99.7 L551.6 99.5 L552.3 98.8 L553.0 97.6 L554.2 94.8 L557.6 85.1 L558.8 82.5 L560.0 80.5 L561.3 78.9 L562.6 77.9 L564.2 77.3 L565.8 77.1 L567.7 77.6 L569.7 78.6 L571.5 80.1 L573.1 82.1 L574.5 84.5 L575.9 87.5 L580.7 99.9 L581.8 101.5 L582.3 101.7 L582.8 101.6 L583.7 100.6 L584.8 98.2 L588.2 86.3 L589.8 81.9 L591.2 78.8 L592.7 76.6 L594.8 74.8 L597.6 73.8 L601.5 73.4 L606.9 73.7 L610.9 74.4 L613.8 75.6 L616.3 77.5 L618.3 80.2 L619.8 83.1 L621.1 86.7 L622.6 91.8 L625.7 104.9 L626.6 107.1 L627.0 107.7 L627.3 107.9 L627.7 107.6 L628.2 106.9 L629.0 104.2 L633.2 81.1 L634.6 75.7 L636.0 71.6 L637.1 69.4 L638.5 67.3 L644.7 60.6 L650.0 52.9 L651.7 51.0 L652.6 50.4 L653.4 50.2 L654.3 50.4 L655.1 51.0 L656.6 52.9 L660.1 58.7 L661.8 61.1 L663.8 62.9 L665.7 63.8 L667.1 63.9 L668.4 63.5 L669.8 62.8 L671.2 61.6 L673.8 58.6 L678.4 51.4 L679.5 50.2 L680.6 49.7 L681.2 49.6 L681.8 49.8 L683.2 51.0 L684.5 53.1 L687.2 58.0" stroke="#e31a1c" stroke-width="2.1" stroke-dasharray="5.5 1.8 1.9 1.9"/>
</g>
<g clip-path="url(#c1)" fill="none" stroke-linejoin="round">
<path d="M47.7 146.4 L49.7 145.5 L51.4 144.2 L53.1 142.6 L54.5 140.5 L55.9 138.0 L57.1 135.0 L61.3 122.8 L62.2 121.2 L62.6 120.9 L63.1 121.0 L63.8 122.3 L64.6 124.9 L68.1 144.3 L69.1 148.2 L70.1 150.6 L71.1 151.9 L72.3 152.5 L73.4 152.5 L77.5 152.0 L80.4 152.4 L82.9 153.6 L85.0 155.3 L86.8 157.6 L88.5 160.6 L90.3 164.9 L93.8 175.2 L94.8 176.9 L95.2 177.2 L95.5 177.2 L95.9 176.9 L96.4 176.2 L97.2 173.6 L100.8 154.5 L101.8 150.7 L102.8 148.3 L103.8 147.1 L105.1 146.5 L110.5 147.1 L112.2 147.0 L113.9 146.7 L116.6 145.4 L118.9 143.5 L120.9 141.0 L122.6 137.8 L124.3 133.2 L127.7 122.7 L128.7 120.8 L129.1 120.4 L129.4 120.4 L129.9 120.7 L130.3 121.5 L131.0 124.0 L134.6 144.6 L135.6 148.7 L136.6 151.2 L137.6 152.4 L138.8 152.9 L139.8 153.0 L143.5 152.5 L146.2 152.9 L148.4 154.0 L150.5 155.7 L152.2 157.8 L153.8 160.6 L155.5 164.6 L159.1 174.1 L160.0 175.7 L160.5 176.1 L160.9 176.2 L161.3 175.9 L161.7 175.3 L162.6 172.9 L166.2 155.1 L167.3 151.4 L168.4 149.1 L169.5 147.9 L170.9 147.5 L177.8 148.5 L180.6 148.5 L183.4 148.1 L185.5 147.6 L187.2 146.9 L188.8 145.9 L190.2 144.7 L192.5 141.7 L194.5 137.4 L196.4 131.6 L199.6 119.0 L200.4 117.2 L200.7 116.7 L201.1 116.6 L201.5 117.0 L201.8 117.8 L202.6 121.0 L205.9 146.3 L206.9 151.5 L207.9 154.5 L208.7 155.6 L209.6 156.2 L210.6 156.3 L213.4 156.0 L214.6 156.1 L216.3 156.7 L217.9 157.8 L219.3 159.1 L220.6 160.8 L225.5 168.9 L226.4 170.1 L227.3 170.8 L227.9 170.9 L228.6 170.6 L229.9 168.9 L231.0 166.2 L233.8 158.1 L235.5 154.6 L236.3 153.5 L237.2 152.8 L238.1 152.4 L239.1 152.3 L240.9 152.7 L242.9 153.7 L245.1 155.2 L246.9 156.9 L248.5 158.9 L250.1 161.4 L255.1 170.8 L256.2 172.0 L256.8 172.2 L257.3 172.1 L258.2 171.1 L259.1 169.0 L262.4 158.0 L264.0 154.2 L264.8 152.8 L265.7 151.8 L266.8 151.3 L267.9 151.1 L270.2 151.7 L272.9 153.1 L275.3 154.8 L277.4 156.8 L279.0 159.0 L280.6 161.8 L285.3 172.4 L286.3 173.8 L287.2 174.0 L288.1 173.0 L289.1 170.7 L292.4 157.4 L293.9 152.8 L294.7 151.2 L295.7 150.1 L296.7 149.6 L298.0 149.5 L301.2 150.3 L305.7 152.2 L308.3 154.0 L310.4 156.2 L312.2 158.9 L313.9 162.4 L318.6 175.4 L319.4 176.8 L320.1 177.2 L320.5 176.9 L320.9 176.3 L321.8 173.8 L325.3 154.8 L326.4 150.9 L327.5 148.3 L328.5 147.1 L329.7 146.6 L335.2 147.2 L336.9 147.1 L338.6 146.8 L341.3 145.6 L343.6 143.6 L345.6 141.1 L347.4 137.8 L349.2 133.2 L352.5 122.5 L353.4 120.8 L354.2 120.2 L354.6 120.5 L355.0 121.2 L355.9 124.0 L359.3 144.4 L360.3 148.6 L361.4 151.3 L362.4 152.5 L363.6 153.1 L368.2 152.7 L370.9 153.1 L373.1 154.1 L375.0 155.8 L376.7 157.9 L378.3 160.6 L380.1 164.6 L383.6 173.8 L384.5 175.4 L384.9 175.8 L385.4 175.9 L385.8 175.7 L386.2 175.2 L387.1 172.7 L390.9 155.0 L392.0 151.3 L393.2 149.0 L394.3 148.0 L395.6 147.7 L400.9 148.6 L403.6 148.9 L407.7 148.9 L411.8 148.6 L414.3 148.1 L416.3 147.5 L418.1 146.6 L419.6 145.4 L421.0 143.9 L422.1 142.2 L424.3 137.5 L426.2 130.9 L429.3 117.3 L430.1 115.1 L430.7 114.6 L431.1 114.9 L431.5 115.8 L432.1 118.9 L435.5 147.5 L436.5 153.2 L437.5 156.4 L438.3 157.6 L439.1 158.1 L439.9 158.1 L442.2 157.7 L443.5 157.7 L444.9 158.1 L446.4 158.8 L449.1 161.3 L453.9 167.4 L455.0 168.3 L455.9 168.7 L456.6 168.6 L457.2 168.3 L458.4 166.9 L462.4 159.0 L464.1 156.4 L465.8 154.9 L466.7 154.6 L467.8 154.5 L469.0 154.7 L470.5 155.3 L472.0 156.2 L473.5 157.4 L476.5 160.7 L481.7 168.2 L483.0 169.2 L483.6 169.3 L484.2 169.3 L485.2 168.5 L486.2 167.0 L489.8 158.9 L491.4 156.1 L492.2 155.1 L493.2 154.4 L494.1 154.0 L495.2 153.8 L496.7 154.1 L498.3 154.8 L500.0 155.9 L501.7 157.4 L504.6 160.9 L509.6 168.8 L510.8 169.9 L511.9 170.2 L512.9 169.5 L514.0 167.7 L517.6 158.6 L519.2 155.5 L520.1 154.4 L521.0 153.6 L521.9 153.2 L523.0 153.0 L524.6 153.3 L526.5 154.2 L528.4 155.6 L530.2 157.2 L531.8 159.0 L533.3 161.2 L538.2 169.8 L539.3 171.0 L540.2 171.2 L541.2 170.5 L542.3 168.6 L545.8 158.4 L547.4 154.8 L548.3 153.5 L549.2 152.7 L550.2 152.2 L551.3 152.0 L553.2 152.5 L555.5 153.6 L557.7 155.2 L559.6 157.1 L561.3 159.2 L562.8 161.6 L567.5 171.1 L568.5 172.3 L569.4 172.6 L569.9 172.4 L570.4 171.9 L571.4 169.8 L574.9 157.8 L576.4 153.8 L577.3 152.4 L578.2 151.4 L579.2 150.9 L580.3 150.7 L582.7 151.3 L585.8 152.8 L588.2 154.5 L590.3 156.7 L592.0 159.0 L593.6 162.0 L598.4 173.1 L599.3 174.4 L600.1 174.6 L600.6 174.3 L601.0 173.8 L602.0 171.1 L605.2 157.2 L606.8 152.3 L607.6 150.7 L608.6 149.6 L609.6 149.0 L610.8 148.9 L614.2 149.7 L620.2 151.8 L622.9 153.5 L625.1 155.7 L626.8 158.2 L628.3 161.3 L630.0 165.9 L633.2 176.3 L634.1 178.1 L634.8 178.7 L635.3 178.5 L635.7 177.8 L636.5 175.0 L640.0 154.0 L641.0 149.7 L642.0 147.1 L643.0 145.9 L644.2 145.2 L648.7 145.6 L651.3 145.2 L653.3 144.2 L655.2 142.6 L657.0 140.4 L658.7 137.5 L660.3 133.9 L663.5 125.7 L664.3 124.1 L665.0 123.3 L665.5 123.2 L666.0 123.6 L667.0 125.6 L668.1 129.4 L671.2 144.0 L672.4 147.4 L673.7 149.5 L675.0 150.3 L676.6 150.3 L686.4 148.2 L689.0 147.4" stroke="#000000" stroke-width="2.6"/>
<path d="M48.8 146.0 L50.4 145.1 L52.1 143.8 L53.7 142.0 L55.0 140.0 L57.6 134.7 L62.0 122.8 L63.0 121.2 L63.5 120.9 L63.8 121.0 L64.7 122.2 L65.5 125.0 L69.0 144.4 L70.0 148.3 L71.0 150.8 L72.0 151.9 L73.1 152.5 L77.9 152.0 L80.6 152.4 L83.1 153.6 L85.2 155.4 L86.9 157.7 L88.5 160.6 L90.4 165.1 L93.8 175.0 L94.7 176.8 L95.2 177.2 L95.5 177.2 L96.0 176.9 L96.4 176.2 L97.2 173.7 L100.8 154.4 L101.8 150.7 L102.9 148.2 L103.9 147.0 L105.1 146.5 L110.7 147.1 L112.4 147.0 L114.1 146.7 L117.0 145.4 L119.5 143.4 L121.5 140.9 L123.3 137.7 L125.3 133.0 L128.9 122.6 L129.8 120.9 L130.3 120.4 L130.6 120.4 L131.1 120.7 L131.6 121.5 L132.4 124.3 L136.0 144.9 L137.0 148.9 L138.0 151.3 L139.0 152.4 L140.1 152.9 L144.8 152.5 L147.6 153.0 L150.0 154.1 L152.2 155.9 L154.1 158.1 L155.9 160.9 L157.8 165.0 L161.5 174.2 L162.4 175.7 L163.3 176.2 L163.7 175.9 L164.2 175.2 L165.0 172.8 L168.5 154.7 L169.5 151.3 L170.5 149.0 L171.4 147.9 L172.5 147.5 L177.4 148.2 L179.2 148.2 L180.9 147.8 L183.5 146.7 L185.8 144.9 L187.9 142.2 L189.7 138.8 L191.8 133.7 L195.3 123.3 L196.3 121.5 L196.7 121.1 L197.1 121.1 L197.6 121.4 L197.9 122.0 L198.8 124.6 L202.4 144.1 L203.4 148.0 L204.5 150.6 L205.5 151.8 L206.7 152.3 L207.8 152.3 L212.1 151.8 L213.6 151.9 L215.2 152.3 L217.8 153.4 L220.0 155.3 L221.9 157.6 L223.6 160.8 L225.5 165.2 L228.9 175.2 L229.8 177.0 L230.3 177.5 L230.7 177.5 L231.1 177.2 L231.5 176.6 L232.3 174.2 L236.0 154.3 L237.0 150.5 L238.1 148.0 L239.2 146.8 L240.4 146.3 L245.6 146.8 L247.2 146.7 L248.8 146.4 L251.4 145.2 L253.6 143.4 L255.5 140.9 L257.3 137.8 L259.1 133.2 L262.5 123.3 L263.5 121.5 L264.2 121.1 L264.7 121.3 L265.1 122.0 L266.0 124.6 L269.6 144.0 L270.6 147.9 L271.7 150.5 L272.7 151.8 L273.9 152.3 L275.0 152.3 L279.3 151.8 L280.8 151.9 L282.4 152.2 L285.0 153.4 L287.2 155.3 L289.1 157.6 L290.8 160.7 L292.7 165.2 L296.2 175.4 L297.1 177.1 L297.8 177.5 L298.3 177.2 L298.7 176.7 L299.6 173.9 L303.2 154.4 L304.2 150.6 L305.3 148.0 L306.3 146.8 L307.6 146.3 L312.8 146.8 L314.4 146.7 L316.0 146.4 L318.5 145.2 L320.9 143.3 L322.7 141.0 L324.5 137.8 L326.3 133.3 L329.7 123.3 L330.7 121.5 L331.4 121.1 L331.9 121.3 L332.3 122.0 L333.2 124.5 L336.8 144.0 L337.8 147.9 L338.9 150.5 L339.9 151.8 L341.1 152.3 L342.2 152.3 L346.5 151.8 L348.0 151.9 L349.6 152.2 L352.2 153.4 L354.4 155.2 L356.3 157.6 L358.0 160.7 L359.9 165.2 L363.4 175.4 L364.3 177.1 L365.0 177.5 L365.5 177.3 L366.0 176.5 L366.8 173.9 L370.4 154.5 L371.4 150.6 L372.5 148.0 L373.5 146.8 L374.7 146.3 L375.9 146.3 L380.1 146.8 L381.7 146.7 L383.2 146.3 L385.8 145.1 L388.1 143.3 L390.0 140.8 L391.7 137.6 L393.5 133.3 L396.9 123.3 L397.8 121.6 L398.6 121.1 L399.1 121.3 L399.5 122.0 L400.3 124.5 L404.0 144.3 L405.1 148.1 L406.2 150.7 L407.2 151.8 L408.4 152.3 L413.7 151.8 L415.2 151.9 L416.8 152.2 L419.4 153.4 L421.6 155.2 L423.5 157.7 L425.3 160.9 L427.1 165.1 L430.6 175.4 L431.5 177.1 L432.2 177.5 L432.7 177.3 L433.2 176.5 L434.0 174.0 L437.6 154.5 L438.6 150.7 L439.7 148.0 L440.7 146.8 L441.9 146.3 L443.0 146.3 L447.3 146.8 L448.9 146.7 L450.4 146.3 L453.0 145.2 L455.2 143.3 L457.2 140.9 L458.9 137.7 L460.7 133.4 L464.1 123.4 L465.0 121.6 L465.8 121.1 L466.2 121.3 L466.7 122.0 L467.5 124.4 L471.2 144.2 L472.3 148.1 L473.4 150.6 L474.4 151.8 L475.6 152.3 L480.8 151.8 L482.4 151.9 L484.0 152.2 L486.6 153.4 L488.8 155.2 L490.7 157.7 L492.5 160.8 L494.3 165.3 L497.8 175.3 L498.7 177.1 L499.4 177.5 L499.9 177.3 L500.3 176.6 L501.2 174.0 L504.8 154.6 L505.8 150.7 L506.9 148.1 L507.9 146.8 L509.1 146.3 L510.2 146.3 L514.5 146.8 L516.1 146.7 L517.6 146.4 L520.2 145.2 L522.4 143.3 L524.3 141.0 L526.0 137.9 L527.9 133.4 L531.4 123.2 L532.3 121.5 L533.1 121.1 L533.5 121.4 L533.9 121.9 L534.8 124.7 L538.4 144.2 L539.4 148.0 L540.6 150.6 L541.6 151.8 L542.8 152.3 L543.9 152.3 L548.0 151.8 L549.6 151.9 L551.2 152.2 L553.8 153.4 L556.1 155.3 L557.9 157.6 L559.7 160.8 L561.5 165.3 L565.0 175.3 L565.9 177.1 L566.6 177.5 L567.1 177.3 L567.5 176.6 L568.4 174.1 L572.0 154.7 L573.0 150.7 L574.1 148.1 L575.1 146.8 L576.3 146.3 L577.4 146.3 L581.7 146.8 L583.3 146.7 L584.8 146.4 L587.4 145.2 L589.6 143.4 L591.6 140.9 L593.3 137.7 L595.1 133.4 L598.6 123.2 L599.5 121.5 L600.3 121.1 L600.7 121.3 L601.2 122.1 L602.0 124.7 L605.6 144.1 L606.6 148.0 L607.7 150.6 L608.8 151.8 L610.0 152.3 L611.1 152.3 L615.3 151.8 L616.9 151.9 L618.5 152.3 L621.1 153.5 L623.3 155.3 L625.2 157.8 L627.0 161.0 L628.7 165.3 L632.1 175.3 L633.1 177.0 L633.8 177.5 L634.3 177.3 L634.7 176.6 L635.6 174.2 L639.3 154.3 L640.3 150.5 L641.4 148.0 L642.4 146.8 L643.6 146.3 L648.9 146.8 L650.4 146.7 L652.0 146.4 L654.6 145.2 L656.8 143.4 L658.8 140.9 L660.5 137.7 L662.3 133.5 L665.8 123.2 L666.7 121.5 L667.5 121.1 L667.9 121.3 L668.4 122.1 L669.2 124.6 L672.9 144.5 L673.9 148.2 L675.0 150.7 L676.0 151.9 L677.2 152.3 L683.2 151.8 L685.3 152.1 L687.2 152.9" stroke="#a6cee3" stroke-width="2.0" stroke-dasharray="7.4 3.2"/>
<path d="M48.8 146.0 L50.5 145.0 L52.1 143.7 L53.5 142.1 L54.9 140.1 L57.4 134.7 L61.6 122.8 L62.7 121.1 L63.1 120.9 L63.5 121.0 L64.3 122.3 L65.0 124.8 L68.6 144.6 L69.6 148.5 L70.6 150.9 L71.6 152.0 L72.7 152.5 L77.6 152.0 L80.5 152.4 L83.1 153.6 L85.5 155.5 L87.4 157.9 L89.3 161.0 L91.2 165.4 L94.8 175.2 L95.7 176.9 L96.1 177.2 L96.5 177.2 L96.9 176.9 L97.3 176.1 L98.1 173.6 L101.4 154.6 L102.3 150.8 L103.4 148.2 L104.2 147.1 L105.3 146.6 L106.4 146.5 L109.5 147.0 L111.6 146.7 L113.6 145.6 L115.6 143.9 L117.7 141.3 L119.8 137.8 L121.3 134.6 L124.2 127.3 L125.5 125.2 L126.1 125.0 L126.6 125.2 L127.6 127.1 L128.5 130.3 L131.1 140.9 L131.9 143.6 L132.9 145.8 L133.8 147.3 L134.9 148.3 L136.1 148.7 L137.5 148.8 L140.9 147.9 L144.9 146.3 L147.5 144.6 L149.7 142.4 L151.5 139.8 L153.2 136.5 L158.0 123.8 L158.8 122.5 L159.6 122.2 L160.0 122.4 L160.4 123.1 L161.3 125.4 L164.9 143.6 L166.0 147.4 L167.1 149.8 L168.2 150.9 L169.5 151.3 L175.8 150.5 L178.2 150.5 L180.5 150.9 L182.4 151.4 L184.1 152.3 L185.7 153.2 L187.1 154.5 L189.3 157.3 L191.2 161.0 L193.0 166.5 L196.3 178.2 L197.1 180.2 L197.8 180.7 L198.2 180.4 L198.6 179.5 L199.4 176.5 L202.8 152.8 L203.8 148.0 L204.8 145.2 L205.6 144.1 L206.5 143.5 L207.6 143.4 L210.5 143.7 L212.0 143.6 L213.9 142.8 L215.8 141.5 L217.3 139.8 L218.7 137.7 L223.6 128.3 L224.4 127.0 L225.2 126.3 L225.8 126.1 L226.4 126.4 L227.6 128.3 L228.7 131.5 L231.4 141.1 L233.1 145.0 L233.9 146.3 L234.7 147.1 L235.8 147.6 L236.9 147.7 L239.2 147.2 L242.1 145.7 L244.5 144.0 L246.5 142.0 L248.2 139.7 L249.8 136.8 L254.7 125.7 L255.7 124.4 L256.2 124.1 L256.6 124.2 L257.5 125.3 L258.4 127.9 L261.5 141.3 L263.1 146.1 L263.9 147.7 L264.8 148.8 L265.9 149.4 L267.2 149.5 L270.9 148.6 L275.9 146.6 L278.6 145.0 L280.8 142.7 L282.4 140.4 L283.9 137.3 L285.6 132.8 L288.9 122.6 L289.8 120.9 L290.2 120.5 L290.5 120.4 L290.9 120.7 L291.4 121.4 L292.2 124.2 L295.7 144.4 L296.7 148.5 L297.8 151.2 L298.7 152.4 L299.9 152.9 L304.7 152.5 L307.4 152.9 L309.6 154.0 L311.6 155.6 L313.4 157.9 L315.0 160.6 L316.8 164.7 L320.3 174.1 L321.2 175.8 L322.0 176.2 L322.5 176.0 L322.9 175.4 L323.8 173.1 L327.5 154.9 L328.5 151.4 L329.6 149.0 L330.7 147.9 L332.1 147.4 L338.3 148.4 L341.5 148.1 L344.3 147.0 L346.8 145.0 L349.5 141.7 L351.4 138.4 L353.3 133.6 L356.9 122.5 L357.7 120.8 L358.2 120.4 L358.5 120.3 L358.9 120.6 L359.4 121.3 L360.2 124.2 L363.7 144.5 L364.7 148.6 L365.7 151.2 L366.6 152.4 L367.8 153.0 L368.9 153.0 L372.7 152.6 L375.3 153.0 L377.5 154.1 L379.4 155.7 L381.1 157.8 L382.8 160.6 L384.5 164.6 L388.0 173.9 L388.9 175.5 L389.4 175.9 L389.8 176.1 L390.3 175.8 L390.7 175.1 L391.6 172.8 L395.3 154.9 L396.4 151.2 L397.5 149.0 L398.6 148.0 L400.0 147.6 L407.3 148.7 L410.5 148.7 L413.7 148.3 L415.9 147.8 L417.8 147.1 L419.5 146.2 L420.9 145.0 L422.2 143.5 L423.3 141.9 L425.3 137.5 L427.2 131.5 L430.4 118.4 L431.2 116.4 L431.8 115.8 L432.2 116.1 L432.6 117.1 L433.4 121.0 L436.1 142.8 L437.2 150.0 L438.3 154.3 L438.9 155.6 L439.5 156.4 L440.4 157.0 L441.3 156.9 L445.3 154.4 L447.6 153.6 L449.6 153.7 L451.2 154.5 L453.5 156.8 L455.5 159.9 L457.4 163.9 L461.2 173.2 L462.1 174.8 L462.9 175.2 L463.4 175.0 L463.8 174.5 L464.7 172.2 L468.6 155.0 L469.8 151.5 L471.1 149.4 L472.4 148.5 L474.1 148.4 L482.6 150.5 L485.2 151.3 L487.5 152.4 L489.4 153.9 L491.1 155.8 L492.6 158.3 L494.0 161.3 L495.2 164.8 L499.1 178.3 L499.8 180.0 L500.5 180.5 L500.9 180.2 L501.3 179.3 L502.1 176.3 L505.5 152.9 L506.5 148.2 L507.5 145.4 L508.3 144.3 L509.2 143.7 L510.3 143.6 L513.3 143.9 L514.8 143.8 L516.8 143.0 L518.6 141.6 L520.2 139.9 L521.7 137.6 L526.4 128.2 L527.3 126.8 L528.0 126.0 L528.7 125.8 L529.3 126.1 L529.9 126.9 L530.6 128.3 L531.6 131.3 L534.3 141.2 L535.9 145.3 L536.8 146.6 L537.7 147.4 L538.7 147.9 L539.8 148.0 L542.2 147.4 L545.3 145.8 L547.8 144.1 L549.8 142.0 L551.5 139.6 L553.1 136.7 L558.0 125.2 L559.0 123.9 L559.4 123.7 L559.8 123.8 L560.7 124.9 L561.6 127.6 L564.7 141.2 L566.2 146.2 L567.0 148.0 L568.0 149.2 L569.1 149.8 L570.4 149.9 L572.0 149.6 L576.5 148.3 L580.3 147.0 L582.9 145.5 L585.1 143.5 L586.9 141.0 L588.5 137.9 L590.3 133.5 L593.8 123.2 L594.8 121.4 L595.2 120.9 L595.6 120.8 L596.0 121.0 L596.5 121.6 L597.3 124.2 L600.9 144.2 L601.9 148.2 L603.0 150.9 L603.9 152.0 L605.1 152.6 L606.2 152.6 L610.1 152.1 L613.0 152.5 L615.4 153.6 L617.6 155.5 L619.3 157.7 L621.0 160.8 L622.8 165.0 L626.2 174.7 L627.1 176.4 L627.9 176.9 L628.4 176.6 L628.8 176.0 L629.7 173.5 L633.2 154.9 L634.3 151.1 L635.4 148.5 L636.4 147.3 L637.7 146.8 L643.4 147.5 L645.3 147.4 L647.1 147.0 L649.9 145.8 L652.4 143.8 L654.4 141.1 L656.2 137.7 L658.0 132.9 L661.4 121.9 L662.2 120.1 L662.9 119.6 L663.3 119.8 L663.8 120.5 L664.6 123.4 L668.1 144.9 L669.1 149.2 L670.2 152.0 L671.1 153.1 L672.1 153.6 L673.0 153.7 L675.9 153.3 L677.5 153.4 L679.3 153.8 L681.0 154.7 L682.7 156.0 L684.2 157.8 L685.7 160.2 L687.2 163.0" stroke="#1f78b4" stroke-width="2.0" stroke-dasharray="1.9 1.8"/>
<path d="M48.8 146.0 L50.5 145.0 L52.1 143.7 L53.5 142.0 L54.9 139.9 L57.3 134.5 L61.3 122.7 L62.2 121.2 L62.7 120.9 L63.0 121.0 L63.8 122.1 L64.5 124.6 L68.0 144.0 L69.0 148.0 L70.1 150.7 L71.1 151.9 L72.3 152.5 L77.4 152.0 L80.4 152.4 L82.8 153.5 L85.0 155.3 L86.8 157.6 L88.5 160.7 L90.3 165.0 L93.8 175.1 L94.7 176.8 L95.1 177.2 L95.6 177.2 L96.3 176.3 L97.2 173.8 L100.7 154.7 L101.7 150.9 L102.8 148.3 L103.9 147.1 L105.1 146.5 L110.6 147.1 L112.3 147.0 L113.9 146.7 L116.6 145.5 L118.9 143.6 L120.8 141.1 L122.5 137.9 L124.4 133.1 L127.8 122.6 L128.7 120.8 L129.1 120.4 L129.5 120.4 L130.2 121.3 L131.1 124.1 L134.5 144.3 L135.6 148.5 L136.7 151.2 L137.6 152.4 L138.8 152.9 L143.5 152.5 L146.2 153.0 L148.5 154.0 L150.4 155.6 L152.2 157.8 L153.8 160.6 L155.6 164.6 L159.0 174.0 L160.0 175.7 L160.4 176.1 L160.8 176.2 L161.3 175.9 L161.7 175.4 L162.5 173.1 L166.3 154.7 L167.4 151.1 L168.5 148.9 L169.6 147.8 L170.9 147.5 L178.0 148.5 L180.9 148.5 L183.8 148.1 L186.0 147.5 L188.0 146.7 L189.9 145.6 L191.5 144.3 L193.0 142.8 L194.2 141.0 L196.6 136.5 L198.6 130.7 L201.9 118.7 L202.6 117.1 L203.2 116.6 L203.6 117.0 L204.0 117.7 L204.7 121.2 L207.7 146.7 L208.6 151.6 L209.5 154.7 L210.1 155.7 L210.8 156.2 L211.7 156.3 L214.1 156.0 L215.2 156.1 L216.7 156.7 L218.2 157.8 L220.8 160.8 L225.4 168.7 L227.0 170.6 L227.8 170.9 L228.5 170.7 L229.2 170.1 L229.8 169.0 L230.9 166.4 L234.1 157.3 L236.0 153.5 L237.0 152.3 L238.1 151.6 L239.2 151.2 L240.5 151.2 L242.7 151.8 L245.3 153.2 L247.5 154.9 L249.4 157.0 L251.0 159.3 L252.5 162.1 L257.3 173.2 L258.3 174.5 L258.7 174.7 L259.2 174.6 L260.0 173.5 L260.9 170.9 L264.1 157.2 L265.6 152.3 L266.5 150.5 L267.5 149.5 L268.6 148.9 L269.9 148.9 L275.1 150.3 L278.6 151.6 L281.0 153.2 L283.1 155.4 L284.8 158.0 L286.5 161.3 L288.2 165.8 L291.5 176.5 L292.3 178.2 L292.7 178.6 L293.1 178.7 L293.5 178.4 L293.9 177.7 L294.7 175.1 L298.2 154.1 L299.2 149.8 L300.2 147.1 L301.1 145.8 L302.3 145.2 L303.3 145.2 L306.9 145.6 L309.4 145.2 L311.5 144.1 L313.3 142.6 L315.1 140.4 L316.8 137.4 L318.4 133.9 L321.5 126.0 L322.2 124.5 L322.9 123.6 L323.5 123.3 L324.1 123.5 L324.7 124.4 L325.3 126.0 L326.3 130.0 L328.8 142.1 L329.7 145.1 L330.5 147.4 L331.4 148.9 L332.4 149.9 L333.5 150.3 L334.9 150.3 L344.2 148.1 L346.8 147.3 L349.7 145.8 L352.0 143.6 L353.9 140.6 L355.6 136.9 L357.3 131.7 L360.5 120.1 L361.2 118.2 L361.9 117.6 L362.3 117.9 L362.7 118.7 L363.5 121.7 L366.9 145.8 L367.9 150.7 L368.9 153.6 L369.7 154.7 L370.6 155.3 L371.7 155.4 L374.5 155.1 L376.0 155.2 L377.8 155.9 L379.6 157.2 L381.1 158.8 L382.5 160.8 L387.4 170.0 L388.3 171.3 L389.1 172.0 L389.8 172.1 L390.4 171.8 L391.6 169.9 L392.7 166.9 L395.4 157.7 L396.9 154.0 L397.8 152.7 L398.6 151.8 L399.5 151.3 L400.6 151.2 L402.2 151.6 L404.1 152.7 L406.1 154.3 L407.9 156.3 L409.8 158.8 L411.5 161.5 L416.4 171.6 L417.5 172.8 L418.0 173.0 L418.4 172.9 L419.4 171.8 L420.3 169.6 L423.5 157.9 L425.1 153.7 L425.9 152.2 L426.8 151.1 L427.9 150.6 L429.1 150.4 L431.7 151.1 L435.1 152.7 L437.5 154.4 L439.6 156.6 L441.3 159.0 L442.9 162.1 L447.7 173.7 L448.6 175.0 L449.4 175.2 L449.9 174.8 L450.3 174.2 L451.2 171.5 L454.4 157.2 L455.9 152.0 L456.8 150.2 L457.7 149.1 L458.8 148.4 L460.1 148.3 L469.0 150.4 L471.8 151.3 L474.6 152.9 L476.9 155.0 L478.9 157.9 L480.6 161.6 L482.3 166.7 L485.4 178.0 L486.3 180.0 L486.9 180.6 L487.4 180.3 L487.8 179.4 L488.5 176.5 L491.9 153.0 L493.0 148.2 L494.0 145.4 L494.7 144.2 L495.7 143.6 L496.8 143.5 L499.7 143.8 L501.3 143.7 L503.2 142.9 L505.1 141.5 L506.6 139.8 L508.0 137.6 L509.7 134.5 L513.2 127.2 L514.1 125.8 L515.0 125.3 L515.6 125.4 L516.1 125.9 L517.1 128.2 L520.4 141.1 L522.0 145.8 L522.9 147.3 L523.8 148.3 L524.9 148.8 L526.2 148.9 L529.2 148.0 L533.2 146.2 L535.7 144.6 L537.8 142.4 L539.6 139.9 L541.3 136.5 L546.1 123.5 L547.0 122.1 L547.5 121.9 L547.9 122.1 L548.6 123.3 L549.4 125.7 L552.9 143.6 L553.9 147.3 L555.0 149.8 L556.1 151.1 L557.4 151.6 L563.5 150.8 L565.5 150.9 L567.6 151.2 L570.7 152.5 L573.2 154.6 L575.4 157.4 L577.2 161.1 L579.0 166.1 L582.2 177.3 L583.1 179.2 L583.7 179.8 L584.2 179.6 L584.6 178.9 L585.4 175.9 L588.9 153.2 L589.9 148.7 L590.9 146.0 L591.7 144.9 L592.6 144.3 L593.7 144.2 L597.0 144.5 L598.6 144.3 L600.7 143.5 L602.6 142.0 L604.2 140.2 L605.7 137.9 L607.3 134.8 L610.8 127.0 L611.7 125.6 L612.5 125.0 L613.1 125.0 L613.6 125.4 L614.7 127.7 L618.2 141.4 L619.9 145.9 L620.7 147.3 L621.6 148.3 L622.7 148.8 L624.0 148.8 L627.1 147.9 L631.0 146.1 L633.5 144.3 L635.6 142.1 L637.4 139.3 L639.1 135.8 L643.7 122.6 L644.5 121.3 L644.9 121.1 L645.3 121.3 L646.0 122.4 L646.7 125.0 L650.2 144.2 L651.2 148.1 L652.2 150.6 L653.3 151.8 L654.4 152.4 L655.5 152.4 L659.7 151.8 L661.2 152.0 L662.7 152.3 L665.2 153.5 L667.4 155.3 L669.3 157.7 L671.1 161.0 L672.8 165.4 L676.1 175.0 L676.9 176.7 L677.7 177.4 L678.2 177.3 L678.7 176.5 L679.6 173.6 L682.7 156.7 L684.0 150.9 L684.7 149.1 L685.5 147.7 L686.2 146.9 L687.2 146.4" stroke="#b2df8a" stroke-width="1.9" stroke-dasharray="11.3 2.6 2.2 2.6"/>
<path d="M48.8 146.0 L50.5 145.0 L52.1 143.7 L53.5 142.0 L54.9 139.9 L57.3 134.5 L61.3 122.7 L62.2 121.2 L62.7 120.9 L63.0 121.0 L63.8 122.1 L64.5 124.6 L68.0 144.0 L69.0 148.0 L70.1 150.7 L71.1 151.9 L72.3 152.5 L77.4 152.0 L80.4 152.4 L82.8 153.5 L85.0 155.3 L86.8 157.6 L88.5 160.7 L90.3 165.0 L93.8 175.1 L94.7 176.8 L95.1 177.2 L95.6 177.2 L96.3 176.3 L97.2 173.8 L100.7 154.7 L101.7 150.9 L102.8 148.3 L103.9 147.1 L105.1 146.5 L110.6 147.1 L112.3 147.0 L113.9 146.7 L116.6 145.5 L118.9 143.6 L120.8 141.1 L122.5 137.9 L124.4 133.1 L127.8 122.6 L128.7 120.8 L129.1 120.4 L129.5 120.4 L130.2 121.3 L131.1 124.1 L134.5 144.3 L135.6 148.5 L136.7 151.2 L137.6 152.4 L138.8 152.9 L143.5 152.5 L146.2 153.0 L148.5 154.0 L150.4 155.6 L152.2 157.8 L153.8 160.6 L155.6 164.6 L159.0 174.0 L160.0 175.7 L160.4 176.1 L160.8 176.2 L161.3 175.9 L161.7 175.4 L162.5 173.1 L166.3 154.7 L167.4 151.1 L168.5 148.9 L169.6 147.8 L170.9 147.5 L178.3 148.6 L181.8 148.5 L185.2 148.2 L187.1 147.7 L189.1 147.0 L190.7 146.0 L192.2 144.8 L193.6 143.3 L194.9 141.5 L197.3 136.7 L199.3 130.6 L202.5 118.2 L203.3 116.3 L203.9 115.7 L204.3 116.1 L204.7 116.9 L205.3 120.0 L208.5 147.4 L209.4 152.7 L210.3 155.6 L211.0 156.6 L211.8 157.1 L212.6 157.1 L214.9 156.8 L216.1 156.8 L217.6 157.3 L219.1 158.2 L220.7 159.5 L222.4 161.4 L227.7 168.5 L228.6 169.4 L229.4 169.8 L230.1 169.9 L230.7 169.6 L231.9 168.0 L233.0 165.6 L235.5 158.3 L236.9 155.4 L238.5 153.8 L239.3 153.4 L240.3 153.3 L241.9 153.6 L243.6 154.4 L245.3 155.6 L247.0 157.1 L248.6 158.9 L250.1 161.0 L255.2 169.5 L256.4 170.7 L257.0 170.9 L257.5 170.8 L258.4 170.0 L259.4 168.1 L262.8 158.6 L264.4 155.1 L265.3 153.8 L266.2 153.0 L267.2 152.5 L268.3 152.4 L270.1 152.7 L272.2 153.8 L274.3 155.3 L276.2 157.1 L277.8 159.1 L279.3 161.4 L284.2 170.6 L285.3 171.9 L286.2 172.1 L287.2 171.2 L288.2 169.1 L291.6 157.9 L293.2 154.1 L294.0 152.8 L294.9 151.8 L295.9 151.3 L297.1 151.2 L299.3 151.7 L302.1 153.1 L304.4 154.8 L306.5 156.8 L308.1 159.0 L309.7 161.8 L314.4 172.3 L315.4 173.6 L316.2 173.9 L316.7 173.6 L317.1 173.1 L318.2 170.7 L321.4 157.8 L322.7 153.6 L323.5 152.1 L324.3 151.0 L325.3 150.4 L326.4 150.3 L328.7 150.8 L332.6 152.7 L335.0 154.4 L337.1 156.5 L338.8 158.9 L340.5 161.9 L345.3 173.3 L346.1 174.6 L346.9 174.9 L347.4 174.6 L347.8 174.1 L348.8 171.5 L352.1 157.2 L353.6 152.2 L354.4 150.5 L355.4 149.3 L356.4 148.8 L357.7 148.6 L359.4 148.9 L364.4 150.4 L367.9 151.6 L370.6 153.2 L372.9 155.4 L374.7 158.1 L376.3 161.5 L378.0 166.3 L381.2 177.1 L382.1 178.9 L382.8 179.4 L383.2 179.2 L383.6 178.4 L384.4 175.4 L387.8 153.7 L388.9 149.2 L389.9 146.5 L390.7 145.2 L391.7 144.7 L392.8 144.5 L396.1 144.9 L397.8 144.7 L400.0 143.8 L402.1 142.1 L403.8 140.1 L405.4 137.5 L407.0 134.2 L410.1 127.0 L411.5 124.7 L412.2 124.4 L412.8 124.6 L413.4 125.4 L413.9 126.8 L415.1 130.6 L417.7 141.8 L419.3 146.4 L420.1 147.9 L421.1 148.8 L422.1 149.3 L423.4 149.3 L427.0 148.3 L431.4 146.4 L434.0 144.7 L436.1 142.6 L437.7 140.2 L439.1 137.3 L440.8 133.0 L444.0 123.4 L445.0 121.5 L445.7 121.0 L446.2 121.2 L446.6 121.9 L447.4 124.4 L451.0 144.0 L452.0 148.0 L453.0 150.5 L454.0 151.8 L455.2 152.4 L456.3 152.4 L460.5 151.9 L462.1 152.0 L463.6 152.4 L466.2 153.6 L468.2 155.4 L469.8 157.7 L471.3 160.9 L472.9 165.5 L476.1 176.4 L476.9 178.3 L477.7 178.9 L478.1 178.7 L478.5 178.0 L479.4 175.1 L482.9 153.9 L483.9 149.5 L484.9 146.9 L485.8 145.6 L486.9 145.1 L488.0 145.0 L491.5 145.4 L494.0 145.0 L495.9 144.0 L497.8 142.4 L499.6 140.2 L501.3 137.3 L502.9 133.8 L505.8 126.3 L506.6 124.8 L507.3 123.9 L507.9 123.6 L508.5 123.8 L509.1 124.6 L509.7 126.1 L510.7 129.9 L513.3 142.0 L514.1 145.0 L515.0 147.2 L515.8 148.7 L516.8 149.6 L517.9 150.1 L519.2 150.0 L526.8 148.0 L529.7 147.0 L532.4 145.5 L534.6 143.3 L536.4 140.6 L538.0 137.1 L539.6 132.3 L542.8 121.1 L543.6 119.1 L544.3 118.6 L544.7 118.8 L545.2 119.6 L545.9 122.4 L549.4 145.4 L550.4 150.0 L551.4 152.7 L552.2 153.8 L553.1 154.5 L554.2 154.6 L557.4 154.3 L559.0 154.4 L561.0 155.2 L563.0 156.7 L564.7 158.7 L566.3 161.2 L570.8 170.7 L572.2 173.0 L572.9 173.4 L573.6 173.2 L574.2 172.5 L574.8 171.2 L575.9 167.7 L578.7 157.1 L580.4 152.6 L581.2 151.3 L582.0 150.5 L583.1 150.1 L584.3 150.0 L587.1 150.9 L590.8 152.6 L593.2 154.3 L595.4 156.5 L597.1 159.0 L598.7 162.2 L603.3 174.2 L604.2 175.6 L604.9 176.0 L605.4 175.7 L605.8 175.2 L606.6 173.0 L610.4 154.9 L611.5 151.3 L612.7 149.1 L613.8 148.0 L615.1 147.7 L620.4 148.6 L622.9 148.9 L626.7 148.9 L630.5 148.5 L632.8 148.0 L634.8 147.4 L636.5 146.4 L638.0 145.3 L639.3 143.9 L640.5 142.1 L642.6 137.5 L644.4 131.3 L647.7 117.7 L648.4 115.6 L649.0 115.0 L649.4 115.3 L649.9 116.4 L650.7 120.7 L653.3 143.1 L654.3 150.2 L655.4 154.8 L656.0 156.3 L656.6 157.1 L657.2 157.6 L657.9 157.8 L660.8 157.4 L662.2 157.4 L663.5 157.8 L664.7 158.4 L666.1 159.6 L667.6 161.1 L672.7 167.9 L673.9 168.9 L674.9 169.1 L676.0 168.5 L677.2 167.0 L681.0 158.7 L682.8 155.9 L683.8 154.9 L684.8 154.3 L685.9 154.1 L687.2 154.2" stroke="#33a02c" stroke-width="2.0" stroke-dasharray="9.5 2.5 2 1.6 2 2.8"/>
<path d="M48.8 146.0 L50.5 145.0 L52.1 143.7 L53.5 142.0 L54.9 139.9 L57.3 134.5 L61.3 122.7 L62.2 121.2 L62.7 120.9 L63.0 121.0 L63.8 122.1 L64.5 124.6 L68.0 144.0 L69.0 148.0 L70.1 150.7 L71.1 151.9 L72.3 152.5 L77.4 152.0 L80.4 152.4 L82.8 153.5 L85.0 155.3 L86.8 157.6 L88.5 160.7 L90.3 165.0 L93.8 175.1 L94.7 176.8 L95.1 177.2 L95.6 177.2 L96.3 176.3 L97.2 173.8 L100.7 154.7 L101.7 150.9 L102.8 148.3 L103.9 147.1 L105.1 146.5 L110.6 147.1 L112.3 147.0 L113.9 146.7 L116.6 145.5 L118.9 143.6 L120.8 141.1 L122.5 137.9 L124.4 133.1 L127.8 122.6 L128.7 120.8 L129.1 120.4 L129.5 120.4 L130.2 121.3 L131.1 124.1 L134.5 144.3 L135.6 148.5 L136.7 151.2 L137.6 152.4 L138.8 152.9 L143.5 152.5 L146.2 152.9 L148.5 154.0 L150.6 155.7 L152.3 157.9 L154.0 160.6 L155.8 164.7 L159.5 174.2 L160.4 175.7 L160.8 176.1 L161.3 176.2 L161.8 175.8 L162.2 175.1 L163.0 172.7 L166.7 154.9 L167.8 151.1 L168.9 148.9 L169.9 147.9 L171.2 147.5 L178.0 148.5 L180.7 148.5 L183.5 148.1 L185.6 147.6 L187.4 146.8 L189.1 145.8 L190.6 144.6 L191.9 143.1 L193.0 141.4 L195.2 137.1 L197.1 131.4 L200.4 119.1 L201.2 117.2 L201.5 116.8 L201.9 116.6 L202.3 117.0 L202.6 117.8 L203.4 121.1 L206.5 146.4 L207.4 151.4 L208.4 154.3 L209.1 155.4 L209.9 156.0 L210.8 156.1 L213.5 155.6 L214.8 155.7 L216.6 156.3 L218.3 157.6 L219.7 159.0 L221.0 160.8 L225.9 169.4 L226.9 170.7 L227.6 171.4 L228.3 171.5 L228.9 171.2 L229.5 170.6 L230.2 169.4 L231.3 166.6 L234.1 157.8 L235.7 154.3 L236.5 153.1 L237.4 152.3 L238.3 151.9 L239.4 151.8 L241.4 152.2 L243.7 153.4 L245.9 155.0 L247.9 156.9 L249.5 159.0 L251.1 161.6 L256.0 171.6 L257.1 172.8 L257.6 173.0 L258.1 172.9 L259.0 171.8 L259.9 169.5 L263.1 157.8 L264.7 153.6 L265.5 152.1 L266.4 151.1 L267.5 150.5 L268.7 150.4 L271.3 151.1 L274.7 152.7 L277.1 154.5 L279.3 156.6 L280.9 159.1 L282.6 162.1 L287.3 173.7 L288.2 175.0 L289.0 175.2 L289.5 174.8 L289.9 174.1 L290.9 171.5 L294.0 157.1 L295.5 151.9 L296.4 150.2 L297.3 149.0 L298.4 148.4 L299.7 148.3 L308.1 150.3 L311.0 151.3 L314.0 152.9 L316.3 155.1 L318.2 157.9 L319.9 161.6 L321.6 166.6 L324.7 177.8 L325.5 179.8 L326.2 180.4 L326.6 180.2 L327.1 179.4 L327.8 176.5 L331.2 153.3 L332.2 148.5 L333.2 145.6 L334.0 144.5 L334.9 143.8 L336.0 143.7 L339.2 144.0 L340.7 143.8 L342.7 143.0 L344.5 141.6 L346.0 139.9 L347.6 137.6 L352.3 128.0 L353.2 126.7 L353.9 125.9 L354.6 125.7 L355.2 126.0 L356.4 128.0 L357.5 131.4 L360.1 141.1 L361.7 145.3 L362.6 146.6 L363.5 147.5 L364.5 148.0 L365.6 148.1 L368.2 147.4 L371.4 145.8 L373.9 144.1 L375.9 142.0 L377.6 139.6 L379.2 136.6 L383.9 125.2 L385.0 123.8 L385.4 123.6 L385.8 123.6 L386.7 124.7 L387.6 127.3 L390.7 141.5 L392.2 146.5 L393.2 148.4 L394.1 149.5 L395.2 150.0 L396.5 150.1 L404.2 148.1 L407.3 147.0 L410.0 145.5 L412.3 143.3 L414.0 140.6 L415.7 136.9 L417.4 132.0 L420.6 121.1 L421.4 119.2 L422.1 118.7 L422.5 119.0 L422.9 119.7 L423.7 122.5 L427.2 145.3 L428.2 149.9 L429.2 152.6 L430.0 153.7 L430.9 154.3 L432.0 154.5 L435.2 154.1 L436.8 154.3 L439.0 155.2 L440.9 156.7 L442.5 158.6 L444.1 161.1 L448.7 170.9 L450.1 173.2 L450.8 173.6 L451.5 173.4 L452.1 172.7 L452.8 171.2 L453.9 167.6 L456.5 157.2 L458.2 152.6 L459.0 151.2 L459.9 150.4 L460.9 149.9 L462.1 149.9 L465.1 150.7 L469.0 152.5 L471.4 154.2 L473.5 156.4 L475.3 159.1 L476.9 162.3 L481.6 174.6 L482.4 175.9 L483.1 176.3 L483.6 176.0 L484.1 175.4 L484.9 173.0 L488.5 155.0 L489.6 151.1 L490.8 148.8 L491.9 147.6 L493.1 147.2 L499.3 147.9 L501.4 147.8 L503.5 147.5 L506.7 146.2 L508.0 145.3 L509.3 144.1 L511.4 141.3 L513.3 137.5 L515.1 132.4 L518.4 120.8 L519.2 119.0 L519.9 118.5 L520.3 118.8 L520.8 119.7 L521.5 122.6 L524.9 145.3 L525.9 150.0 L526.9 152.8 L527.7 153.9 L528.6 154.5 L529.7 154.7 L532.9 154.3 L534.5 154.5 L536.4 155.3 L538.4 156.8 L540.0 158.6 L541.5 160.9 L543.1 164.0 L546.4 171.0 L547.2 172.4 L548.0 173.1 L548.6 173.3 L549.1 173.0 L550.1 171.5 L551.2 168.3 L553.7 158.7 L554.9 154.7 L556.4 151.8 L557.2 150.9 L558.1 150.4 L559.1 150.1 L560.3 150.3 L564.1 151.6 L567.5 153.6 L570.1 156.0 L572.0 158.6 L573.7 161.7 L578.6 174.1 L579.3 175.3 L580.1 175.8 L580.5 175.6 L580.9 175.1 L581.8 173.0 L582.7 169.3 L585.9 154.3 L587.0 150.8 L588.4 148.7 L589.5 148.0 L590.9 147.9 L597.1 149.1 L606.1 150.0 L609.9 150.8 L612.7 152.1 L614.9 154.0 L616.9 156.8 L618.3 159.9 L619.6 163.5 L621.0 168.8 L623.8 181.1 L624.6 183.3 L625.2 183.9 L625.6 183.7 L626.0 182.6 L626.9 178.4 L629.5 154.8 L630.6 147.3 L631.8 142.8 L632.4 141.6 L633.2 140.8 L634.4 140.5 L636.8 140.9 L638.1 140.9 L639.4 140.6 L640.7 140.0 L642.2 138.9 L643.6 137.4 L648.7 131.0 L649.9 130.1 L650.9 129.9 L652.0 130.4 L653.2 131.9 L657.1 139.8 L658.8 142.5 L659.9 143.4 L661.0 144.0 L662.2 144.2 L663.4 144.0 L666.1 142.8 L668.8 140.6 L671.4 137.5 L676.1 130.6 L677.3 129.5 L678.4 129.1 L679.5 129.7 L680.6 131.1 L684.9 140.7 L686.0 142.5 L687.2 143.9" stroke="#e31a1c" stroke-width="2.1" stroke-dasharray="5.5 1.8 1.9 1.9"/>
</g>
<g clip-path="url(#c2)" fill="none" stroke-linejoin="round">
<path d="M47.7 239.9 L49.5 242.9 L51.2 245.4 L52.7 247.1 L54.2 248.3 L55.3 248.8 L56.4 248.7 L57.5 247.8 L58.3 246.5 L59.8 242.2 L61.0 235.8 L64.3 209.9 L65.3 203.8 L66.1 200.3 L66.5 199.5 L67.0 199.3 L67.7 200.1 L68.6 202.4 L72.0 216.3 L74.2 223.9 L76.5 230.1 L78.8 235.6 L82.0 241.6 L85.0 245.9 L86.4 247.2 L87.6 247.9 L88.7 248.0 L89.6 247.6 L90.5 246.6 L91.4 244.9 L92.2 242.3 L93.0 239.1 L94.4 230.5 L97.7 205.4 L98.7 201.1 L99.2 200.2 L99.7 199.9 L100.0 200.0 L100.4 200.7 L101.3 202.9 L104.9 217.2 L107.2 224.8 L109.4 230.9 L111.8 236.3 L115.0 242.4 L118.2 247.1 L119.7 248.5 L121.0 249.4 L122.1 249.8 L123.1 249.6 L124.2 248.6 L125.1 246.9 L126.0 244.4 L126.8 240.8 L128.3 231.3 L131.6 204.8 L132.6 199.9 L133.0 198.9 L133.5 198.5 L133.8 198.7 L134.3 199.4 L135.1 201.8 L138.4 215.5 L140.5 222.7 L142.3 228.2 L144.4 233.4 L147.2 239.1 L150.0 243.4 L151.3 244.9 L152.4 245.7 L153.5 246.2 L154.4 246.1 L155.5 245.3 L156.5 243.8 L157.3 241.7 L158.2 238.6 L159.8 229.9 L163.1 206.8 L164.1 202.6 L164.6 201.6 L165.1 201.3 L165.9 202.0 L166.8 204.2 L170.9 219.2 L173.5 227.3 L176.2 234.2 L179.1 240.2 L183.1 246.9 L185.2 249.9 L187.3 252.4 L189.4 254.3 L191.2 255.7 L192.8 256.4 L194.0 256.3 L194.7 256.0 L195.4 255.4 L196.5 253.5 L197.5 250.3 L198.4 245.8 L200.0 233.3 L203.1 200.8 L204.0 195.1 L204.5 193.9 L204.9 193.6 L205.5 194.3 L206.1 196.2 L209.7 214.0 L211.1 219.2 L212.5 223.8 L214.5 228.7 L216.5 232.7 L218.4 235.5 L220.2 237.0 L221.4 237.2 L222.6 236.8 L223.7 235.6 L224.7 233.7 L226.6 228.0 L230.5 212.2 L231.7 209.4 L232.3 208.7 L232.9 208.5 L233.4 208.7 L234.0 209.2 L235.1 211.3 L241.2 226.8 L243.2 231.2 L245.1 234.6 L246.8 237.2 L248.5 238.9 L250.1 239.5 L250.7 239.4 L251.4 239.0 L252.2 238.2 L252.9 237.0 L254.3 233.6 L255.7 228.0 L259.4 210.8 L260.6 207.6 L261.1 206.9 L261.7 206.7 L262.6 207.4 L263.7 209.5 L269.6 226.2 L271.8 231.3 L273.9 235.6 L276.0 239.1 L277.9 241.3 L279.6 242.4 L280.3 242.5 L281.0 242.3 L281.9 241.6 L282.8 240.3 L283.6 238.4 L284.4 235.9 L285.9 229.1 L289.4 209.1 L290.5 205.4 L291.0 204.5 L291.6 204.2 L292.4 204.9 L293.4 206.9 L299.1 225.1 L301.4 231.1 L303.8 236.4 L306.3 241.2 L308.8 244.8 L311.0 247.1 L311.9 247.7 L312.9 248.0 L314.1 247.6 L315.2 246.3 L316.3 244.0 L317.2 240.8 L318.9 231.5 L322.4 205.4 L323.4 201.1 L323.9 200.1 L324.4 199.9 L325.2 200.9 L326.0 203.3 L329.5 216.9 L331.6 224.1 L333.6 229.8 L335.9 235.3 L339.1 241.5 L342.2 246.3 L343.6 248.0 L345.0 249.2 L346.2 249.9 L347.2 250.0 L348.4 249.4 L349.5 247.9 L350.5 245.4 L351.4 241.7 L353.1 231.9 L356.4 204.5 L357.4 199.7 L357.8 198.7 L358.3 198.3 L359.0 199.1 L359.8 201.2 L364.0 218.5 L365.6 223.8 L367.4 228.9 L369.5 234.0 L371.8 238.6 L374.0 242.2 L375.9 244.5 L376.9 245.3 L377.8 245.7 L378.6 245.8 L379.3 245.5 L380.0 245.0 L380.7 244.1 L381.9 241.3 L382.9 237.5 L383.9 232.3 L387.8 206.2 L388.8 202.5 L389.3 201.7 L389.8 201.6 L390.6 202.5 L391.5 204.7 L395.6 219.8 L398.4 228.2 L401.5 235.9 L404.9 242.6 L407.1 246.1 L409.3 249.4 L411.7 252.3 L414.2 254.9 L416.8 257.2 L419.3 259.0 L421.3 259.9 L423.0 260.1 L423.8 259.9 L424.6 259.4 L425.9 257.5 L427.0 254.3 L428.0 249.3 L428.8 243.3 L429.7 235.2 L432.7 198.6 L433.6 192.7 L434.0 191.3 L434.4 190.9 L434.9 191.6 L435.5 193.7 L438.9 211.9 L440.3 217.4 L441.7 222.0 L443.7 226.7 L445.7 230.3 L447.7 232.6 L448.7 233.2 L449.6 233.4 L450.5 233.3 L451.5 232.7 L452.3 231.8 L453.2 230.4 L454.9 226.5 L458.9 214.6 L460.2 212.4 L460.8 211.9 L461.5 211.7 L462.1 211.9 L462.7 212.3 L464.0 214.2 L470.0 226.5 L473.1 231.7 L474.5 233.4 L475.9 234.4 L477.2 234.8 L478.3 234.4 L479.2 233.7 L480.0 232.8 L481.5 229.7 L482.8 225.8 L485.6 216.2 L486.7 213.2 L487.8 211.3 L488.3 210.9 L488.9 210.7 L489.5 210.9 L490.1 211.4 L491.5 213.5 L497.3 226.3 L500.5 232.2 L502.0 234.2 L503.4 235.5 L504.6 236.1 L505.8 236.0 L506.7 235.5 L507.4 234.6 L508.9 231.8 L510.6 226.9 L514.3 213.1 L515.6 210.3 L516.2 209.7 L516.7 209.5 L517.3 209.7 L517.8 210.2 L519.1 212.3 L525.0 226.4 L528.4 233.0 L530.0 235.4 L531.4 236.9 L532.8 237.7 L534.0 237.8 L534.9 237.3 L535.7 236.4 L537.3 233.1 L539.0 227.7 L542.7 212.0 L543.9 209.0 L544.5 208.3 L545.1 208.1 L545.6 208.2 L546.1 208.8 L547.3 210.9 L553.1 226.2 L555.0 230.5 L556.8 234.1 L558.6 237.0 L560.2 238.9 L561.7 240.0 L563.0 240.1 L564.0 239.6 L564.9 238.6 L565.7 237.0 L566.6 234.7 L568.2 228.4 L571.8 210.4 L573.0 207.0 L573.5 206.4 L574.1 206.1 L575.1 206.9 L576.2 209.1 L581.9 225.9 L584.1 231.1 L586.2 235.6 L588.3 239.2 L590.2 241.8 L591.9 243.3 L592.7 243.6 L593.5 243.6 L594.5 243.1 L595.4 241.9 L596.3 240.0 L597.2 237.4 L598.9 229.5 L602.4 208.0 L603.6 204.3 L604.1 203.5 L604.7 203.4 L605.4 204.2 L606.3 206.1 L612.0 225.0 L614.4 231.3 L616.9 237.0 L619.9 242.6 L622.8 246.9 L625.4 249.6 L626.5 250.3 L627.5 250.6 L628.2 250.5 L628.9 250.2 L630.1 248.7 L631.1 246.2 L632.1 242.3 L633.8 231.7 L637.0 204.8 L637.8 200.2 L638.6 198.1 L638.9 197.9 L639.3 198.1 L640.2 200.0 L645.0 219.6 L647.0 226.1 L649.2 231.8 L651.7 237.0 L654.2 241.2 L656.4 243.8 L657.4 244.5 L658.3 244.8 L659.5 244.6 L660.6 243.5 L661.6 241.5 L662.6 238.6 L664.2 230.5 L667.8 207.5 L668.9 203.4 L669.4 202.6 L669.9 202.4 L670.7 203.1 L671.6 205.3 L676.4 221.8 L680.1 232.2 L682.1 236.8 L684.3 241.1 L686.6 245.1 L689.0 248.5" stroke="#000000" stroke-width="2.6"/>
<path d="M48.8 241.7 L52.2 246.4 L53.7 247.8 L55.0 248.6 L56.2 248.8 L57.3 248.4 L58.2 247.4 L59.1 245.8 L60.5 241.5 L61.9 234.6 L66.1 203.9 L67.1 200.3 L67.4 199.6 L67.9 199.3 L68.3 199.5 L68.6 200.0 L69.6 202.7 L73.1 217.4 L75.2 224.9 L77.2 230.9 L79.4 236.3 L82.4 242.0 L85.3 246.1 L86.6 247.3 L87.7 247.9 L88.8 248.0 L89.7 247.5 L90.6 246.4 L91.5 244.7 L92.9 239.3 L94.4 230.6 L97.7 205.9 L98.7 201.3 L99.1 200.2 L99.7 199.9 L100.4 200.6 L101.4 203.1 L105.0 217.2 L107.3 224.8 L109.6 231.0 L112.1 236.6 L115.4 242.7 L118.7 247.1 L120.2 248.6 L121.6 249.5 L122.8 249.8 L123.9 249.6 L125.1 248.5 L126.1 246.7 L127.0 244.1 L128.0 240.4 L129.6 230.3 L132.9 204.8 L133.9 200.0 L134.3 198.9 L134.8 198.5 L135.5 199.1 L136.2 200.9 L141.1 220.6 L143.1 227.0 L145.4 232.9 L148.1 238.3 L150.8 242.5 L153.3 245.2 L154.4 245.9 L155.5 246.2 L156.9 245.9 L158.2 244.6 L159.3 242.4 L160.3 239.3 L162.2 230.0 L165.6 206.3 L166.5 202.5 L167.0 201.6 L167.4 201.3 L168.2 202.1 L169.1 204.6 L172.6 219.2 L174.7 226.7 L176.6 231.8 L178.7 236.5 L180.5 239.6 L182.3 242.3 L184.3 244.9 L186.3 246.9 L187.9 248.1 L189.2 248.6 L190.4 248.5 L191.5 247.8 L192.3 246.7 L193.1 244.8 L194.6 239.2 L196.1 230.1 L199.2 205.8 L200.2 201.0 L200.7 199.9 L201.3 199.4 L201.6 199.6 L202.0 200.1 L202.7 202.0 L207.9 221.5 L210.1 228.0 L212.5 233.9 L215.4 239.7 L218.4 244.4 L220.9 247.4 L222.1 248.2 L223.2 248.6 L224.5 248.3 L225.7 247.0 L226.7 244.8 L227.7 241.3 L229.5 231.6 L233.0 204.9 L234.0 200.6 L234.4 199.7 L234.9 199.4 L235.6 200.2 L236.4 202.1 L241.5 221.3 L243.7 227.9 L246.2 234.0 L249.0 239.8 L252.0 244.5 L254.6 247.4 L255.8 248.3 L256.8 248.6 L258.1 248.2 L259.3 246.9 L260.3 244.7 L261.3 241.2 L263.1 231.3 L266.5 205.2 L267.5 200.8 L268.0 199.8 L268.5 199.4 L268.8 199.6 L269.2 200.1 L269.9 201.9 L275.1 221.4 L277.3 228.0 L279.7 233.9 L282.6 239.7 L285.6 244.4 L288.1 247.4 L289.3 248.2 L290.4 248.6 L291.7 248.3 L292.9 247.0 L293.9 244.8 L294.9 241.4 L296.6 231.7 L300.2 205.0 L301.2 200.7 L301.6 199.7 L302.1 199.4 L302.8 200.2 L303.6 202.0 L308.7 221.3 L310.9 227.8 L313.4 234.0 L316.2 239.8 L319.2 244.5 L321.8 247.4 L323.0 248.2 L324.0 248.6 L325.3 248.2 L326.5 246.9 L327.5 244.7 L328.5 241.2 L330.3 231.4 L333.7 205.3 L334.7 200.8 L335.2 199.8 L335.6 199.4 L336.0 199.6 L336.4 200.1 L337.1 201.9 L342.3 221.4 L344.5 227.9 L346.9 233.9 L349.8 239.7 L352.7 244.4 L355.3 247.4 L356.5 248.2 L357.6 248.6 L358.3 248.5 L358.9 248.2 L360.1 246.9 L361.2 244.6 L362.2 241.1 L363.9 231.2 L367.3 205.1 L368.4 200.7 L368.8 199.7 L369.3 199.4 L369.7 199.6 L370.0 200.2 L370.8 202.0 L375.9 221.2 L378.1 227.8 L380.5 233.7 L383.3 239.6 L386.3 244.3 L388.9 247.3 L390.1 248.2 L391.1 248.6 L391.8 248.5 L392.5 248.3 L393.7 247.0 L394.7 244.8 L395.7 241.3 L397.5 231.5 L400.9 205.4 L401.9 200.8 L402.4 199.8 L402.8 199.4 L403.2 199.6 L403.6 200.1 L404.3 201.8 L409.5 221.3 L411.7 227.9 L414.1 233.8 L417.0 239.6 L419.8 244.3 L422.4 247.3 L423.6 248.2 L424.7 248.5 L425.4 248.5 L426.0 248.3 L427.2 247.0 L428.4 244.7 L429.4 241.1 L431.1 231.3 L434.5 205.2 L435.6 200.7 L436.0 199.8 L436.5 199.4 L436.9 199.6 L437.2 200.1 L438.0 202.0 L443.0 221.2 L445.3 227.8 L447.7 233.7 L450.5 239.5 L453.5 244.3 L456.1 247.3 L457.3 248.2 L458.3 248.5 L459.0 248.5 L459.7 248.3 L460.9 247.0 L461.9 244.8 L462.9 241.3 L464.7 231.6 L468.2 205.0 L469.2 200.6 L469.7 199.7 L470.1 199.4 L470.9 200.2 L471.6 202.1 L476.7 221.3 L478.8 227.6 L481.2 233.6 L484.1 239.4 L486.9 244.1 L489.5 247.2 L490.7 248.1 L491.8 248.5 L492.5 248.6 L493.1 248.3 L494.3 247.2 L495.5 245.0 L496.5 241.6 L497.4 237.1 L498.3 231.4 L501.7 205.3 L502.8 200.8 L503.2 199.8 L503.7 199.4 L504.0 199.6 L504.4 200.1 L505.2 201.9 L510.2 221.1 L512.4 227.5 L514.8 233.5 L517.6 239.3 L520.5 244.0 L523.1 247.1 L524.3 248.1 L525.3 248.5 L526.0 248.6 L526.7 248.4 L528.0 247.1 L529.1 244.8 L530.1 241.4 L531.9 231.7 L535.4 205.0 L536.4 200.7 L536.9 199.7 L537.3 199.4 L538.1 200.2 L538.8 202.0 L543.8 220.9 L545.9 227.3 L548.3 233.3 L551.1 239.1 L554.0 243.8 L556.5 247.0 L557.7 248.0 L558.8 248.5 L560.1 248.4 L561.4 247.3 L562.6 245.0 L563.7 241.6 L564.6 237.2 L565.5 231.5 L568.9 205.3 L569.9 200.8 L570.4 199.8 L570.9 199.4 L571.2 199.6 L571.6 200.1 L572.3 201.9 L577.4 221.1 L579.6 227.4 L581.9 233.2 L584.6 239.0 L587.4 243.6 L590.0 246.8 L591.2 247.9 L592.2 248.4 L593.0 248.6 L593.7 248.5 L595.0 247.4 L596.2 245.1 L597.2 241.8 L598.1 237.5 L599.1 231.8 L602.6 205.1 L603.6 200.7 L604.0 199.8 L604.5 199.4 L604.9 199.6 L605.3 200.1 L606.0 202.0 L611.0 220.9 L613.0 227.0 L615.2 232.7 L617.9 238.3 L620.6 243.0 L623.2 246.4 L624.4 247.6 L625.4 248.2 L626.2 248.5 L627.1 248.5 L627.8 248.2 L628.5 247.6 L629.7 245.5 L630.8 242.0 L631.7 237.8 L632.6 232.2 L636.1 205.4 L637.1 200.9 L637.6 199.8 L638.1 199.4 L638.4 199.6 L638.8 200.1 L639.6 202.1 L644.3 220.1 L646.2 225.8 L648.2 231.2 L650.6 236.6 L653.1 241.3 L655.5 244.9 L657.7 247.4 L658.8 248.1 L659.7 248.5 L660.5 248.6 L661.4 248.2 L662.1 247.6 L662.7 246.6 L664.0 243.2 L665.1 238.6 L666.2 232.6 L669.8 205.2 L670.7 201.0 L671.2 199.9 L671.6 199.5 L672.0 199.5 L672.4 200.0 L673.3 202.2 L677.4 218.3 L680.4 227.5 L683.7 235.5 L687.2 242.1" stroke="#a6cee3" stroke-width="2.0" stroke-dasharray="7.4 3.2"/>
<path d="M48.8 241.7 L52.0 246.3 L53.4 247.7 L54.8 248.6 L56.0 248.8 L57.0 248.4 L57.9 247.5 L58.8 245.8 L60.2 241.5 L61.6 234.7 L65.7 203.9 L66.6 200.2 L67.1 199.5 L67.5 199.3 L68.2 200.0 L69.0 202.4 L72.5 216.8 L74.7 224.6 L76.9 230.8 L79.3 236.4 L82.4 242.1 L84.0 244.4 L85.6 246.2 L87.0 247.4 L88.3 248.0 L89.5 248.0 L90.5 247.5 L91.5 246.3 L92.4 244.3 L93.3 241.7 L94.0 238.5 L95.6 229.3 L98.6 205.4 L99.5 201.1 L100.0 200.2 L100.4 199.9 L101.1 200.5 L101.8 202.6 L105.8 219.3 L107.3 224.5 L109.0 229.5 L110.3 232.4 L111.7 234.7 L113.3 236.8 L115.3 238.9 L118.0 241.0 L120.0 241.8 L120.6 241.7 L121.3 241.3 L122.5 239.4 L123.6 236.1 L124.6 231.5 L128.4 209.0 L129.4 205.7 L129.9 204.9 L130.5 204.7 L131.2 205.4 L132.1 207.1 L138.4 224.3 L141.3 231.2 L144.3 237.1 L147.0 241.7 L149.4 244.8 L151.4 246.4 L152.3 246.6 L153.1 246.5 L154.2 245.7 L155.1 244.3 L156.0 242.1 L156.8 239.0 L158.5 230.2 L161.8 206.7 L162.8 202.3 L163.3 201.3 L163.8 200.9 L164.1 201.1 L164.6 201.6 L165.5 204.0 L169.4 218.5 L172.0 226.8 L174.6 233.4 L177.4 239.4 L181.0 245.7 L184.6 250.3 L186.4 252.1 L188.2 253.5 L189.6 254.1 L190.9 254.1 L192.2 253.2 L193.3 251.3 L194.2 248.5 L195.2 244.3 L196.8 232.7 L199.9 202.0 L200.8 196.8 L201.3 195.6 L201.7 195.3 L202.3 195.9 L203.0 197.8 L206.8 215.3 L208.2 220.6 L209.8 225.6 L211.8 230.4 L213.8 234.5 L215.8 237.5 L217.6 239.4 L219.0 239.9 L220.3 239.5 L221.4 238.2 L222.5 235.9 L223.5 233.1 L224.5 229.0 L228.3 210.5 L229.5 207.2 L230.0 206.5 L230.6 206.3 L231.5 207.1 L232.5 209.0 L238.6 226.5 L240.9 232.0 L243.2 236.6 L245.4 240.1 L247.5 242.4 L248.4 243.0 L249.2 243.3 L250.0 243.2 L250.8 242.8 L251.5 241.9 L252.3 240.5 L253.7 236.2 L255.3 228.9 L258.7 208.6 L259.8 204.8 L260.3 203.9 L260.9 203.6 L261.6 204.3 L262.6 206.3 L268.3 224.9 L270.7 231.2 L273.2 237.0 L276.0 242.2 L278.8 246.3 L281.2 248.8 L282.3 249.5 L283.2 249.7 L283.9 249.6 L284.6 249.3 L285.8 247.8 L286.8 245.3 L287.8 241.4 L289.4 231.6 L292.6 205.7 L293.4 201.0 L294.3 198.8 L294.6 198.6 L295.0 198.8 L295.9 200.9 L301.0 220.6 L303.0 226.9 L305.4 233.0 L308.0 238.4 L310.5 242.6 L312.9 245.3 L313.9 246.0 L314.9 246.3 L316.0 246.0 L317.1 244.9 L318.2 242.8 L319.1 239.8 L320.9 230.7 L324.3 206.5 L325.4 202.2 L326.0 201.4 L326.5 201.2 L327.2 202.1 L328.2 204.6 L331.8 218.2 L334.2 225.8 L336.6 232.1 L339.0 237.6 L341.4 241.4 L344.5 244.9 L349.4 249.1 L350.5 249.8 L351.6 249.9 L352.7 249.3 L353.8 247.8 L354.9 245.2 L355.8 241.5 L357.4 231.6 L360.7 204.4 L361.6 199.9 L362.1 198.9 L362.6 198.4 L363.3 199.1 L364.0 201.1 L368.3 218.6 L370.0 223.9 L371.8 229.2 L373.9 234.3 L376.1 238.7 L378.3 242.3 L380.3 244.6 L381.2 245.4 L382.2 245.9 L383.0 246.0 L383.8 245.7 L384.4 245.2 L385.1 244.3 L386.4 241.2 L387.4 237.3 L388.4 231.9 L392.2 206.5 L393.2 202.6 L393.7 201.7 L394.2 201.4 L395.0 202.2 L395.9 204.6 L399.9 219.2 L402.6 227.5 L405.4 234.6 L408.4 240.9 L412.5 247.6 L414.6 250.4 L416.8 253.0 L419.1 255.2 L421.2 256.8 L422.9 257.7 L424.3 257.8 L425.1 257.6 L425.8 257.1 L427.1 255.1 L428.2 251.8 L429.1 247.3 L430.8 233.8 L433.9 199.8 L434.7 194.3 L435.1 193.0 L435.6 192.5 L436.2 193.3 L436.8 195.3 L440.2 212.9 L441.5 218.0 L442.9 222.3 L445.2 228.3 L449.1 236.5 L451.2 240.2 L453.2 242.9 L455.1 244.4 L455.9 244.6 L456.7 244.5 L457.4 244.0 L458.1 243.2 L459.4 240.5 L460.5 236.7 L461.5 231.7 L465.4 207.1 L466.4 203.6 L466.9 202.8 L467.4 202.6 L468.3 203.5 L469.2 205.8 L473.2 219.7 L475.7 227.1 L477.9 232.8 L480.2 238.0 L483.5 243.9 L486.9 248.9 L490.0 252.3 L491.3 253.3 L492.5 253.7 L493.3 253.8 L494.1 253.5 L494.7 253.0 L495.4 252.1 L496.6 249.4 L497.6 245.3 L498.5 239.9 L499.4 233.3 L502.6 202.3 L503.6 197.1 L504.0 195.9 L504.4 195.5 L504.7 195.7 L505.1 196.3 L505.8 198.3 L509.6 215.7 L511.0 220.9 L512.6 225.8 L514.6 230.7 L516.7 235.0 L518.7 238.1 L520.5 239.8 L521.9 240.3 L523.1 240.0 L524.3 238.6 L525.4 236.3 L526.4 233.5 L527.4 229.3 L531.3 210.0 L532.4 206.9 L532.9 206.2 L533.5 205.9 L534.4 206.7 L535.4 208.8 L541.5 226.6 L543.8 232.1 L546.2 236.9 L548.5 240.6 L550.6 243.0 L551.5 243.7 L552.4 244.0 L553.2 243.9 L554.0 243.4 L554.8 242.4 L555.6 241.0 L557.0 236.4 L558.5 229.3 L561.9 208.2 L563.0 204.2 L563.5 203.3 L564.1 203.1 L564.8 203.8 L565.7 205.7 L571.5 224.7 L573.9 231.3 L576.5 237.3 L579.6 243.0 L582.6 247.5 L585.4 250.4 L586.4 251.1 L587.4 251.3 L588.2 251.2 L588.9 250.8 L590.3 249.1 L591.5 246.4 L592.6 242.6 L593.6 237.5 L594.5 231.5 L597.9 204.8 L598.8 200.5 L599.3 199.5 L599.8 199.1 L600.4 199.7 L601.3 201.8 L605.8 219.6 L607.6 225.3 L609.5 230.6 L611.7 235.7 L614.1 240.3 L616.4 243.9 L618.5 246.3 L619.4 247.0 L620.4 247.5 L621.2 247.5 L622.0 247.2 L622.7 246.6 L623.3 245.5 L624.6 242.2 L625.6 238.0 L626.6 232.2 L630.3 205.5 L631.3 201.3 L631.7 200.5 L632.2 200.3 L633.0 201.1 L633.8 203.3 L637.6 217.7 L639.9 225.4 L642.3 231.8 L644.9 237.7 L648.4 244.0 L650.2 246.6 L651.9 248.7 L653.3 250.1 L654.7 250.9 L655.9 251.1 L656.9 250.8 L657.9 249.6 L658.8 247.7 L659.7 244.9 L660.5 241.4 L662.0 231.2 L665.1 203.9 L666.1 198.8 L666.6 197.8 L667.1 197.5 L667.8 198.3 L668.5 200.6 L671.7 214.5 L673.6 221.3 L675.5 227.0 L677.5 232.1 L680.3 237.8 L682.9 241.8 L684.1 243.0 L685.2 243.7 L686.2 244.0 L687.2 243.7" stroke="#1f78b4" stroke-width="2.0" stroke-dasharray="1.9 1.8"/>
<path d="M48.8 241.7 L51.9 246.2 L53.3 247.7 L54.6 248.6 L55.7 248.8 L56.7 248.5 L57.7 247.6 L58.5 246.0 L59.9 241.7 L61.1 235.1 L65.2 204.1 L66.1 200.5 L66.5 199.6 L67.0 199.3 L67.3 199.5 L67.7 200.1 L68.6 202.5 L72.1 216.4 L74.4 224.2 L76.6 230.4 L78.9 235.9 L82.2 241.9 L83.8 244.3 L85.2 246.1 L86.5 247.3 L87.7 247.9 L88.8 248.0 L89.7 247.5 L90.6 246.5 L91.4 244.8 L92.9 239.4 L94.5 230.3 L97.7 205.8 L98.7 201.2 L99.2 200.1 L99.7 199.9 L100.5 200.7 L101.3 203.0 L104.9 217.0 L107.2 224.6 L109.4 230.7 L111.8 236.4 L115.1 242.5 L118.3 247.1 L119.7 248.6 L121.0 249.5 L122.1 249.8 L123.1 249.6 L124.2 248.5 L125.1 246.8 L126.0 244.3 L126.8 240.7 L128.4 231.1 L131.6 204.6 L132.6 199.8 L133.0 198.9 L133.5 198.5 L134.2 199.3 L135.1 201.6 L138.4 215.6 L140.5 222.8 L142.3 228.3 L144.5 233.5 L147.3 239.3 L150.1 243.5 L151.3 244.9 L152.4 245.8 L153.5 246.2 L154.5 246.1 L155.5 245.4 L156.4 243.9 L157.3 241.8 L158.1 238.8 L159.7 230.3 L163.1 206.7 L164.1 202.6 L164.6 201.6 L165.1 201.3 L165.9 202.0 L166.8 204.3 L170.9 219.3 L173.7 227.8 L176.7 235.2 L179.9 241.6 L181.9 245.0 L184.0 248.0 L186.1 250.6 L188.3 252.9 L190.4 254.6 L192.4 255.8 L194.2 256.4 L195.8 256.3 L196.6 255.9 L197.4 255.2 L198.6 253.1 L199.7 249.8 L200.8 245.0 L202.4 232.3 L205.2 200.1 L206.0 195.1 L206.3 194.0 L206.7 193.6 L207.2 194.2 L207.8 196.3 L210.9 214.1 L212.0 219.1 L213.3 223.7 L214.8 228.1 L216.5 232.0 L218.2 234.9 L219.9 236.7 L221.2 237.2 L222.4 237.0 L223.5 236.0 L224.6 234.0 L225.5 231.7 L226.5 228.3 L229.5 215.8 L230.6 211.9 L231.8 209.2 L232.4 208.6 L233.1 208.5 L233.6 208.8 L234.2 209.5 L235.5 211.8 L242.0 229.1 L244.1 233.7 L246.2 237.8 L248.3 241.0 L250.2 242.9 L251.0 243.5 L251.8 243.7 L252.5 243.6 L253.2 243.2 L254.1 242.3 L254.8 240.9 L256.3 236.5 L257.8 229.2 L261.3 208.0 L262.4 204.3 L262.9 203.5 L263.4 203.3 L264.2 204.0 L265.1 206.0 L270.9 225.0 L273.2 231.3 L275.9 237.3 L278.8 243.1 L281.5 247.3 L283.7 249.8 L284.8 250.4 L285.7 250.6 L286.4 250.6 L287.0 250.2 L288.2 248.8 L289.3 246.3 L290.3 242.4 L292.0 231.9 L295.1 205.0 L295.9 200.2 L296.8 198.0 L297.1 197.9 L297.6 198.2 L298.4 200.2 L303.2 219.5 L305.1 225.7 L307.3 231.5 L309.8 236.8 L312.2 241.0 L314.4 243.6 L315.4 244.4 L316.4 244.7 L317.6 244.5 L318.7 243.5 L319.7 241.6 L320.6 238.8 L322.4 230.3 L326.0 207.4 L327.1 203.4 L327.6 202.6 L328.2 202.5 L328.9 203.3 L329.9 205.7 L333.8 219.7 L336.3 227.2 L338.7 233.2 L341.2 238.7 L344.7 244.9 L348.3 250.0 L350.1 252.0 L351.7 253.4 L353.2 254.3 L354.4 254.6 L355.1 254.5 L355.8 254.2 L357.1 252.5 L358.2 249.7 L359.2 245.4 L360.9 233.3 L364.1 201.4 L365.0 196.6 L365.4 195.3 L365.8 194.9 L366.4 195.5 L367.1 197.4 L370.9 215.1 L372.3 220.5 L373.9 225.1 L375.8 230.0 L377.8 234.1 L379.8 237.1 L381.6 238.8 L382.9 239.3 L384.2 238.9 L385.3 237.7 L386.4 235.5 L387.3 232.8 L388.3 228.9 L392.2 210.8 L393.4 207.8 L393.9 207.1 L394.5 206.8 L395.0 207.0 L395.5 207.5 L396.7 209.8 L403.0 228.1 L404.8 232.5 L406.4 235.8 L408.1 238.5 L409.7 240.2 L411.2 240.8 L412.0 240.7 L412.7 240.3 L413.4 239.4 L414.2 238.1 L415.6 234.4 L417.0 228.4 L420.6 210.1 L421.7 206.6 L422.3 205.9 L422.9 205.6 L423.3 205.8 L423.8 206.4 L424.8 208.5 L430.5 225.4 L432.5 230.6 L434.6 235.2 L436.8 239.1 L438.8 242.1 L440.6 243.9 L441.4 244.4 L442.2 244.6 L443.4 244.3 L444.4 243.3 L445.4 241.3 L446.3 238.5 L448.0 230.5 L451.7 207.3 L452.8 203.5 L453.3 202.7 L453.9 202.6 L454.6 203.5 L455.6 205.9 L459.5 219.5 L461.8 226.8 L464.1 232.7 L466.7 238.3 L470.1 244.4 L473.5 249.4 L475.2 251.3 L476.8 252.7 L478.1 253.6 L479.3 253.9 L480.1 253.9 L480.7 253.5 L482.0 252.0 L483.1 249.3 L484.1 245.1 L485.8 233.5 L489.1 202.3 L490.0 197.0 L490.4 195.8 L490.8 195.4 L491.2 195.6 L491.5 196.1 L492.2 198.2 L495.8 214.9 L498.6 224.6 L500.4 229.2 L502.3 233.3 L504.1 236.5 L505.8 238.7 L507.5 240.0 L508.3 240.1 L509.1 240.0 L509.8 239.6 L510.5 238.9 L511.8 236.5 L512.9 233.2 L513.9 228.9 L517.7 208.4 L518.7 205.4 L519.2 204.7 L519.7 204.6 L520.6 205.4 L521.5 207.4 L527.2 225.1 L529.4 230.8 L531.7 236.0 L534.2 240.6 L536.5 244.1 L538.6 246.2 L539.5 246.8 L540.3 247.1 L541.6 246.7 L542.7 245.5 L543.7 243.3 L544.7 240.2 L546.4 231.3 L549.9 205.7 L550.9 201.7 L551.4 200.8 L552.0 200.7 L552.8 201.8 L553.7 204.2 L557.1 217.4 L559.3 224.7 L561.5 230.8 L563.9 236.3 L567.1 242.6 L570.5 247.7 L572.1 249.7 L573.7 251.2 L575.0 252.2 L576.2 252.6 L577.0 252.5 L577.6 252.2 L578.9 250.7 L580.0 248.1 L581.0 244.0 L582.7 232.8 L585.9 203.1 L586.9 198.0 L587.3 196.9 L587.7 196.4 L588.1 196.5 L588.4 197.0 L589.1 198.9 L593.4 217.6 L595.1 223.4 L597.0 228.6 L599.3 233.8 L601.6 238.1 L603.7 240.7 L604.7 241.5 L605.6 241.8 L606.8 241.7 L607.9 240.8 L608.9 239.0 L609.9 236.6 L611.6 229.2 L615.2 209.5 L616.2 206.0 L616.7 205.1 L617.2 204.7 L617.7 204.8 L618.2 205.2 L619.3 207.4 L625.0 225.3 L627.2 231.0 L629.6 236.2 L632.0 240.6 L634.2 243.9 L636.1 245.9 L637.1 246.6 L638.0 246.9 L639.3 246.7 L640.4 245.5 L641.4 243.3 L642.3 239.9 L643.9 230.6 L647.1 205.8 L648.0 201.2 L648.4 200.1 L648.8 199.5 L649.2 199.4 L649.6 199.8 L650.5 201.7 L655.5 220.9 L657.6 227.4 L659.9 233.2 L662.5 238.8 L665.1 243.3 L667.6 246.5 L668.7 247.5 L669.7 248.2 L670.5 248.4 L671.2 248.3 L671.9 248.0 L672.6 247.3 L673.8 245.1 L674.9 241.5 L676.7 231.7 L679.9 206.6 L680.6 202.5 L681.4 200.1 L681.8 199.6 L682.2 199.7 L682.8 200.3 L683.3 201.5 L687.2 216.6" stroke="#b2df8a" stroke-width="1.9" stroke-dasharray="11.3 2.6 2.2 2.6"/>
<path d="M48.8 241.7 L51.9 246.2 L53.3 247.7 L54.6 248.6 L55.7 248.8 L56.7 248.5 L57.7 247.6 L58.5 246.0 L59.9 241.7 L61.1 235.1 L65.2 204.1 L66.1 200.5 L66.5 199.6 L67.0 199.3 L67.3 199.5 L67.7 200.1 L68.6 202.5 L72.1 216.4 L74.4 224.2 L76.6 230.4 L78.9 235.9 L82.2 241.9 L83.8 244.3 L85.2 246.1 L86.5 247.3 L87.7 247.9 L88.8 248.0 L89.7 247.5 L90.6 246.5 L91.4 244.8 L92.9 239.4 L94.5 230.3 L97.7 205.8 L98.7 201.2 L99.2 200.1 L99.7 199.9 L100.5 200.7 L101.3 203.0 L104.9 217.0 L107.2 224.6 L109.4 230.7 L111.8 236.4 L115.1 242.5 L118.3 247.1 L119.7 248.6 L121.0 249.5 L122.1 249.8 L123.1 249.6 L124.2 248.5 L125.1 246.8 L126.0 244.3 L126.8 240.7 L128.4 231.1 L131.6 204.6 L132.6 199.8 L133.0 198.9 L133.5 198.5 L134.2 199.3 L135.1 201.6 L138.4 215.6 L140.5 222.8 L142.3 228.3 L144.5 233.5 L147.3 239.3 L150.1 243.5 L151.3 244.9 L152.4 245.8 L153.5 246.2 L154.5 246.1 L155.5 245.4 L156.4 243.9 L157.3 241.8 L158.1 238.8 L159.7 230.3 L163.1 206.7 L164.1 202.6 L164.6 201.6 L165.1 201.3 L165.9 202.0 L166.8 204.3 L171.0 219.6 L173.9 228.3 L177.0 236.0 L180.6 243.2 L182.5 246.5 L184.6 249.5 L186.6 252.0 L188.8 254.3 L191.0 256.1 L193.0 257.4 L194.8 258.0 L196.3 257.9 L197.2 257.5 L198.0 256.8 L199.2 254.7 L200.3 251.3 L201.3 246.4 L203.0 232.7 L205.9 199.3 L206.7 194.1 L207.0 192.9 L207.4 192.4 L208.0 193.1 L208.5 195.0 L211.7 213.2 L212.9 218.4 L214.1 222.8 L215.8 227.3 L217.7 231.1 L219.6 233.7 L221.4 235.2 L222.9 235.5 L224.2 235.1 L225.5 234.0 L226.7 232.1 L227.8 229.6 L228.8 226.6 L232.6 212.7 L233.6 210.5 L234.2 210.0 L234.7 209.9 L235.6 210.6 L236.6 212.3 L242.0 226.0 L243.8 229.7 L245.6 232.9 L247.3 235.3 L248.9 236.8 L250.3 237.3 L251.6 236.9 L253.1 235.3 L254.4 232.4 L255.9 227.4 L259.7 212.3 L260.9 209.4 L261.4 208.7 L262.0 208.5 L262.6 208.7 L263.1 209.3 L264.3 211.4 L270.2 226.4 L272.0 230.5 L273.9 234.0 L275.6 236.6 L277.2 238.4 L278.7 239.3 L280.0 239.3 L280.9 238.7 L281.7 237.6 L283.3 234.0 L284.8 228.3 L288.6 210.8 L289.8 207.6 L290.3 207.0 L290.9 206.8 L291.4 207.0 L291.9 207.6 L293.0 209.8 L298.6 225.6 L300.5 230.4 L302.5 234.5 L304.3 237.8 L306.1 240.3 L307.7 241.8 L309.2 242.4 L310.4 242.1 L311.4 241.0 L312.3 239.3 L313.2 236.7 L314.9 229.5 L318.6 208.9 L319.7 205.3 L320.2 204.6 L320.7 204.3 L321.5 205.0 L322.4 206.9 L328.2 225.0 L330.7 231.2 L333.2 236.5 L335.7 240.5 L337.9 243.1 L338.9 243.8 L339.9 244.1 L340.7 243.9 L341.5 243.4 L342.2 242.4 L343.0 240.9 L344.4 236.6 L345.8 229.5 L349.3 207.9 L350.4 204.0 L350.9 203.2 L351.5 203.0 L352.2 203.8 L353.1 205.8 L358.8 224.9 L361.3 231.5 L364.0 237.6 L367.1 243.2 L370.2 247.9 L373.0 250.8 L374.2 251.6 L375.3 251.9 L376.1 251.8 L376.7 251.5 L377.9 250.0 L379.0 247.3 L380.0 243.7 L381.7 232.8 L385.0 203.3 L385.9 198.4 L386.3 197.3 L386.7 196.9 L387.1 197.0 L387.4 197.5 L388.2 199.7 L392.2 216.9 L393.6 221.9 L395.2 226.8 L397.1 231.5 L399.1 235.8 L401.1 239.1 L402.9 241.4 L404.6 242.7 L405.4 242.8 L406.2 242.7 L406.8 242.2 L407.5 241.4 L408.8 238.8 L409.8 235.5 L410.8 230.9 L414.7 208.5 L415.8 204.9 L416.3 204.1 L416.8 203.9 L417.7 204.7 L418.6 206.8 L424.3 224.9 L426.6 231.0 L429.0 236.5 L431.7 241.5 L434.3 245.4 L436.6 247.8 L437.5 248.4 L438.4 248.7 L439.7 248.4 L440.9 247.0 L441.9 244.8 L442.9 241.2 L444.6 231.5 L448.0 205.0 L449.0 200.8 L449.4 199.8 L449.9 199.4 L450.6 199.9 L451.4 202.0 L456.3 221.0 L458.4 227.2 L460.7 233.1 L463.7 239.5 L467.2 245.2 L469.6 248.5 L470.6 249.3 L471.4 249.6 L472.0 249.5 L472.5 249.2 L473.5 247.8 L474.3 245.4 L475.2 241.8 L476.8 231.2 L479.9 204.0 L480.8 199.3 L481.3 198.1 L481.8 197.6 L482.1 197.8 L482.4 198.3 L483.2 200.3 L487.3 217.4 L488.8 222.7 L490.5 227.7 L492.4 232.5 L494.6 236.9 L496.6 240.4 L498.5 242.8 L500.3 244.1 L501.1 244.3 L501.9 244.1 L502.5 243.6 L503.2 242.8 L504.5 240.1 L505.6 236.3 L506.6 231.3 L510.4 207.6 L511.5 203.7 L512.0 203.0 L512.5 202.8 L513.3 203.6 L514.1 205.5 L520.0 225.1 L522.5 231.6 L525.2 237.7 L528.3 243.5 L531.6 248.4 L534.6 251.6 L535.8 252.4 L536.9 252.8 L537.6 252.8 L538.3 252.4 L539.5 251.0 L540.6 248.2 L541.6 244.0 L543.3 232.6 L546.5 202.6 L547.5 197.6 L547.9 196.5 L548.3 196.1 L548.6 196.3 L549.0 196.9 L549.7 198.8 L553.5 215.8 L554.9 221.1 L556.4 225.7 L558.2 230.3 L560.2 234.5 L562.1 237.8 L563.9 240.1 L565.6 241.3 L566.4 241.4 L567.0 241.3 L567.7 240.9 L568.4 240.1 L569.6 237.8 L570.6 234.7 L571.7 230.1 L575.6 209.4 L576.7 206.0 L577.2 205.3 L577.8 205.1 L578.7 205.8 L579.7 207.9 L585.4 225.2 L587.5 230.7 L589.7 235.6 L592.0 239.9 L594.2 243.1 L596.0 245.1 L596.9 245.6 L597.7 245.9 L598.9 245.6 L600.0 244.5 L601.0 242.5 L602.0 239.6 L603.7 230.7 L607.3 206.5 L608.4 202.4 L608.9 201.7 L609.5 201.6 L610.3 202.7 L611.1 205.0 L614.9 219.0 L617.6 227.1 L620.4 234.4 L623.6 240.9 L627.6 247.5 L631.9 253.0 L634.3 255.4 L636.6 257.3 L638.7 258.7 L640.4 259.3 L641.4 259.4 L642.2 259.1 L643.0 258.6 L643.8 257.6 L645.0 254.5 L646.1 249.8 L647.1 243.6 L647.9 235.9 L651.1 199.3 L651.8 193.8 L652.2 192.4 L652.6 191.5 L652.8 191.5 L653.2 191.9 L653.8 194.0 L657.2 211.4 L659.5 220.5 L661.1 224.7 L662.7 228.3 L664.4 231.1 L666.0 233.0 L667.4 234.0 L668.8 234.1 L670.0 233.4 L671.2 231.9 L672.2 229.9 L673.3 227.3 L677.4 214.3 L678.5 212.1 L679.5 211.1 L680.1 211.1 L680.8 211.4 L682.2 213.1 L683.7 216.1 L687.2 223.9" stroke="#33a02c" stroke-width="2.0" stroke-dasharray="9.5 2.5 2 1.6 2 2.8"/>
<path d="M48.8 241.7 L51.9 246.2 L53.3 247.7 L54.6 248.6 L55.7 248.8 L56.7 248.5 L57.7 247.6 L58.5 246.0 L59.9 241.7 L61.1 235.1 L65.2 204.1 L66.1 200.5 L66.5 199.6 L67.0 199.3 L67.3 199.5 L67.7 200.1 L68.6 202.5 L72.1 216.4 L74.4 224.2 L76.6 230.4 L78.9 235.9 L82.2 241.9 L83.8 244.3 L85.2 246.1 L86.5 247.3 L87.7 247.9 L88.8 248.0 L89.7 247.5 L90.6 246.5 L91.4 244.8 L92.9 239.4 L94.5 230.3 L97.7 205.8 L98.7 201.2 L99.2 200.1 L99.7 199.9 L100.5 200.7 L101.3 203.0 L104.9 217.0 L107.2 224.6 L109.4 230.7 L111.8 236.4 L115.1 242.5 L118.3 247.1 L119.7 248.6 L121.0 249.5 L122.1 249.8 L123.1 249.6 L124.2 248.5 L125.1 246.8 L126.0 244.3 L126.8 240.7 L128.4 231.1 L131.6 204.6 L132.6 199.8 L133.0 198.9 L133.5 198.5 L134.2 199.3 L135.1 201.6 L138.4 215.6 L140.5 222.8 L142.3 228.2 L144.5 233.4 L147.3 239.2 L150.1 243.5 L151.4 244.9 L152.6 245.8 L153.7 246.2 L154.6 246.1 L155.7 245.3 L156.7 243.9 L157.6 241.7 L158.5 238.7 L160.1 229.8 L163.5 206.6 L164.6 202.5 L165.1 201.5 L165.6 201.3 L166.3 202.1 L167.3 204.5 L171.2 219.2 L173.8 227.6 L176.5 234.6 L179.5 240.8 L183.5 247.4 L185.6 250.3 L187.7 252.6 L189.7 254.5 L191.6 255.8 L193.2 256.4 L194.6 256.3 L195.3 255.9 L196.0 255.3 L197.2 253.4 L198.3 250.0 L199.2 245.7 L200.9 232.7 L203.9 200.6 L204.7 195.2 L205.1 194.1 L205.5 193.6 L206.0 194.1 L206.6 196.0 L210.1 214.3 L211.3 219.5 L212.7 224.0 L214.5 228.8 L216.4 232.9 L218.4 235.9 L220.2 237.7 L221.5 238.2 L222.7 237.9 L223.8 236.8 L224.9 234.8 L225.8 232.2 L226.9 228.6 L230.8 211.4 L232.0 208.5 L232.5 207.9 L233.1 207.7 L233.6 207.9 L234.2 208.4 L235.3 210.4 L241.4 226.7 L243.5 231.5 L245.5 235.4 L247.5 238.3 L249.2 240.1 L250.8 240.8 L251.5 240.7 L252.2 240.3 L253.0 239.5 L253.7 238.2 L255.1 234.6 L256.6 228.3 L260.2 210.0 L261.3 206.7 L261.8 205.9 L262.4 205.6 L262.8 205.8 L263.3 206.4 L264.3 208.4 L270.0 225.3 L272.1 230.7 L274.2 235.3 L276.4 239.2 L278.3 242.1 L280.1 243.9 L281.7 244.6 L282.9 244.4 L284.0 243.3 L285.0 241.3 L285.9 238.5 L287.6 230.4 L291.3 207.2 L292.4 203.4 L292.9 202.7 L293.5 202.6 L294.3 203.5 L295.2 205.9 L299.1 219.6 L301.5 226.8 L303.7 232.7 L306.3 238.3 L309.6 244.3 L313.1 249.3 L314.7 251.1 L316.2 252.5 L317.6 253.3 L318.8 253.6 L319.5 253.5 L320.2 253.2 L321.5 251.5 L322.6 248.6 L323.5 244.6 L325.2 232.9 L328.4 202.1 L329.3 197.1 L329.8 196.0 L330.2 195.6 L330.8 196.2 L331.5 198.2 L335.4 215.8 L336.9 221.3 L338.5 226.2 L340.5 231.2 L342.6 235.2 L344.6 238.3 L346.4 240.0 L347.7 240.5 L349.0 240.1 L350.2 238.8 L351.3 236.4 L352.2 233.5 L353.3 229.3 L357.1 210.0 L358.2 206.8 L358.7 206.1 L359.3 205.8 L359.7 206.0 L360.2 206.5 L361.2 208.5 L367.3 226.5 L369.7 232.2 L372.1 237.1 L374.4 240.9 L376.6 243.3 L377.5 244.0 L378.3 244.3 L379.2 244.2 L380.0 243.8 L380.8 242.8 L381.6 241.3 L383.0 236.8 L384.5 229.1 L387.9 207.8 L389.0 203.8 L389.5 203.0 L390.0 202.8 L390.8 203.5 L391.7 205.4 L397.6 225.2 L400.1 231.9 L402.8 238.0 L406.1 243.9 L409.3 248.5 L412.3 251.6 L413.5 252.4 L414.6 252.7 L415.4 252.6 L416.1 252.3 L417.3 250.8 L418.4 248.0 L419.4 243.8 L421.1 232.5 L424.3 202.7 L425.2 197.8 L425.6 196.7 L426.1 196.3 L426.4 196.5 L426.7 197.0 L427.4 199.0 L431.3 216.2 L432.8 221.4 L434.3 226.0 L436.2 230.8 L438.1 234.9 L440.1 238.2 L441.8 240.4 L443.5 241.6 L444.3 241.7 L445.0 241.6 L445.7 241.1 L446.3 240.3 L447.5 238.0 L448.5 234.8 L449.6 230.5 L453.5 209.1 L454.6 205.7 L455.1 205.0 L455.7 204.8 L456.6 205.6 L457.5 207.6 L463.2 225.1 L465.4 230.9 L467.6 235.8 L470.0 240.2 L472.3 243.6 L474.3 245.7 L475.2 246.2 L476.0 246.4 L477.2 246.1 L478.3 244.9 L479.3 242.8 L480.2 239.8 L481.9 231.1 L485.5 206.2 L486.6 202.0 L487.1 201.2 L487.7 201.2 L488.5 202.3 L489.3 204.6 L492.9 218.0 L495.1 225.1 L497.4 231.4 L499.8 237.0 L503.1 243.3 L506.6 248.4 L508.3 250.4 L509.8 251.9 L511.2 252.8 L512.4 253.1 L513.1 253.0 L513.8 252.7 L515.1 251.0 L516.2 248.2 L517.1 244.3 L518.8 232.9 L522.0 202.7 L523.0 197.6 L523.4 196.4 L523.8 196.0 L524.2 196.2 L524.5 196.7 L525.2 198.7 L529.0 215.7 L531.9 225.4 L533.6 230.0 L535.6 234.2 L537.5 237.6 L539.3 239.9 L541.0 241.1 L541.8 241.2 L542.5 241.1 L543.1 240.6 L543.8 239.9 L545.0 237.6 L546.0 234.6 L547.1 230.0 L551.0 209.6 L552.1 206.2 L552.6 205.5 L553.2 205.2 L553.7 205.5 L554.2 206.1 L555.2 208.2 L560.8 225.2 L562.9 230.6 L565.1 235.5 L567.3 239.6 L569.4 242.8 L571.3 244.7 L572.1 245.2 L573.0 245.5 L574.2 245.2 L575.3 244.1 L576.3 242.0 L577.2 239.1 L578.9 230.8 L582.6 206.6 L583.7 202.7 L584.2 202.0 L584.8 201.9 L585.5 203.0 L586.4 205.3 L590.4 219.6 L593.1 227.9 L596.0 235.2 L599.3 241.9 L603.5 248.5 L605.7 251.3 L608.1 254.0 L610.5 256.3 L613.0 258.2 L615.1 259.5 L616.8 260.0 L617.8 259.9 L618.7 259.6 L619.4 258.9 L620.1 257.9 L621.3 254.9 L622.4 250.0 L623.3 243.6 L624.2 235.7 L627.3 198.4 L628.1 193.1 L628.4 191.8 L628.8 191.0 L629.1 191.1 L629.4 191.6 L630.0 193.5 L633.4 211.7 L634.7 216.9 L636.0 221.4 L637.8 225.9 L639.7 229.5 L641.6 232.0 L643.3 233.4 L644.4 233.6 L645.5 233.2 L646.6 232.3 L647.6 230.9 L649.4 226.6 L653.3 214.9 L654.4 212.7 L655.5 211.7 L656.2 211.6 L656.9 211.9 L658.4 213.8 L664.4 226.3 L667.3 231.3 L669.5 233.9 L670.5 234.6 L671.6 234.9 L672.6 234.8 L673.6 234.1 L674.6 232.9 L675.5 231.1 L677.2 226.6 L680.6 215.0 L681.6 212.6 L682.4 211.2 L683.4 210.6 L683.9 210.6 L684.5 211.0 L685.7 212.7 L687.2 215.6" stroke="#e31a1c" stroke-width="2.1" stroke-dasharray="5.5 1.8 1.9 1.9"/>
</g>
<g clip-path="url(#c3)" fill="none" stroke-linejoin="round">
<path d="M48.8 338.1 L55.1 338.1 L57.8 337.7 L59.9 336.8 L63.5 334.2 L64.5 333.8 L65.4 333.7 L66.8 333.9 L68.4 334.4 L72.5 336.6 L74.1 337.3 L75.7 337.7 L77.9 338.0 L83.1 338.1 L106.2 338.1 L120.5 338.0 L122.7 337.6 L124.5 336.7 L126.3 335.2 L129.7 331.4 L130.7 330.8 L131.8 330.6 L133.2 330.9 L135.2 331.7 L139.9 335.2 L142.4 336.4 L146.2 337.2 L150.6 337.2 L153.2 336.5 L155.3 335.0 L157.3 332.6 L161.1 326.4 L162.1 325.4 L163.0 325.1 L164.4 325.7 L167.1 328.0 L172.0 334.0 L174.3 336.0 L175.7 336.6 L177.3 336.9 L179.4 337.0 L181.7 336.7 L184.2 336.0 L186.1 335.0 L187.9 333.5 L189.5 331.4 L191.2 328.6 L192.6 325.6 L197.2 313.1 L198.2 311.4 L199.1 310.8 L199.8 311.0 L200.5 311.7 L204.2 316.9 L205.5 319.4 L208.3 325.7 L209.6 328.0 L211.0 329.7 L212.4 330.7 L213.7 331.1 L215.3 331.3 L217.0 331.2 L218.6 330.8 L221.4 329.3 L226.0 325.8 L227.0 325.3 L228.0 325.2 L229.3 325.5 L231.9 327.0 L235.0 327.9 L238.3 330.3 L239.5 331.0 L240.9 331.3 L242.4 331.2 L244.5 330.2 L246.5 328.4 L248.3 325.6 L250.0 321.9 L251.4 317.6 L252.9 312.2 L258.0 289.4 L259.2 286.1 L259.9 285.2 L260.4 284.9 L261.0 285.2 L261.5 285.8 L262.8 288.8 L268.1 304.0 L271.8 316.5 L273.5 321.5 L274.6 323.8 L275.8 325.7 L277.1 326.9 L278.3 327.5 L279.4 327.5 L280.4 326.9 L281.4 325.7 L282.3 324.1 L284.3 319.0 L288.2 305.6 L289.3 303.3 L289.9 302.6 L290.5 302.3 L291.1 302.4 L291.8 303.1 L294.8 308.0 L295.5 308.9 L296.2 309.3 L296.8 309.3 L297.5 309.0 L300.2 306.1 L301.0 305.9 L301.6 306.2 L302.9 308.0 L306.4 316.0 L308.5 319.3 L309.7 320.5 L310.9 321.2 L312.0 321.2 L313.1 320.6 L314.6 318.5 L316.1 314.5 L317.6 308.2 L321.1 291.0 L322.2 287.9 L322.7 287.0 L323.2 286.8 L323.9 287.3 L324.7 289.1 L328.2 301.7 L329.0 304.0 L329.7 305.4 L330.4 306.0 L331.0 306.1 L331.8 305.6 L333.8 303.6 L334.5 303.4 L335.2 303.7 L335.8 304.5 L336.6 305.9 L339.9 314.2 L341.9 318.0 L343.2 319.6 L344.4 320.5 L345.5 320.9 L346.6 320.6 L347.6 319.9 L348.4 318.6 L350.1 314.3 L351.7 307.3 L355.2 288.9 L356.3 285.7 L356.7 285.0 L357.2 284.7 L357.9 285.4 L358.8 287.5 L362.1 301.5 L363.6 305.7 L364.2 306.5 L364.9 306.8 L365.6 306.6 L367.6 305.0 L368.4 305.1 L369.0 305.5 L370.3 307.6 L374.0 316.0 L375.3 317.9 L376.5 319.1 L377.7 319.5 L378.8 319.2 L379.9 318.0 L380.9 316.1 L382.8 310.5 L386.7 294.3 L387.8 291.6 L388.2 291.1 L388.8 290.9 L389.5 291.5 L390.4 293.1 L393.9 303.9 L394.7 305.9 L395.5 307.2 L396.4 307.7 L397.3 307.2 L398.1 306.0 L400.7 300.9 L401.5 300.2 L402.4 300.4 L403.1 301.3 L403.9 303.0 L408.1 314.0 L410.6 318.6 L412.8 321.4 L415.1 323.5 L417.2 324.6 L418.1 324.9 L418.9 324.8 L419.8 324.5 L420.5 323.9 L422.0 321.6 L423.3 318.1 L424.5 313.3 L425.6 307.3 L426.7 299.8 L430.3 269.6 L431.0 265.7 L431.4 264.5 L431.8 264.2 L432.1 264.5 L432.5 265.7 L433.2 270.4 L436.1 300.9 L437.9 313.9 L439.1 319.6 L440.5 324.3 L441.8 327.0 L442.5 327.7 L443.2 328.1 L443.9 328.1 L444.6 327.9 L446.2 326.6 L447.9 324.5 L449.5 321.5 L452.3 314.4 L457.7 296.8 L459.2 293.6 L460.0 292.6 L460.7 292.1 L461.7 291.9 L462.9 292.5 L467.1 295.4 L468.5 297.1 L469.3 298.9 L470.2 301.5 L473.5 313.5 L475.0 318.3 L475.9 320.4 L476.8 321.7 L477.6 322.4 L478.4 322.6 L479.5 322.1 L480.6 320.8 L481.8 318.5 L485.6 310.3 L486.8 308.6 L488.0 307.9 L489.0 308.1 L490.1 309.0 L491.3 310.5 L494.6 315.5 L495.6 316.6 L496.5 317.0 L497.3 316.8 L498.1 316.0 L501.4 309.4 L502.1 308.4 L502.8 308.0 L503.4 308.1 L504.0 308.6 L507.0 313.0 L507.8 313.9 L508.6 314.3 L509.4 314.3 L510.3 313.7 L514.1 308.8 L515.1 308.0 L516.1 307.8 L517.0 308.1 L517.9 308.8 L521.4 312.9 L522.9 314.3 L524.4 314.9 L525.7 314.5 L526.5 313.7 L527.2 312.5 L528.7 308.9 L530.3 303.0 L533.6 287.8 L534.5 285.0 L535.0 284.3 L535.5 284.0 L535.8 284.1 L536.3 284.8 L537.2 287.4 L540.7 304.5 L541.7 308.0 L542.6 310.7 L544.1 313.6 L548.8 321.2 L550.7 323.8 L552.7 325.9 L555.3 328.2 L558.6 330.3 L560.6 331.2 L562.1 331.4 L563.2 330.9 L564.2 329.9 L568.0 324.0 L568.8 323.4 L569.8 323.2 L571.0 323.8 L580.3 330.2 L582.4 330.9 L584.4 330.6 L585.5 330.1 L586.5 329.3 L588.4 326.8 L590.2 323.3 L591.8 318.3 L593.2 312.8 L594.6 305.7 L599.0 278.5 L599.9 274.8 L600.4 273.9 L600.7 273.7 L601.1 274.0 L601.6 275.0 L602.5 279.4 L606.2 308.3 L607.4 315.8 L608.7 322.2 L610.2 327.9 L611.6 332.0 L613.3 335.0 L615.0 336.8 L616.5 337.5 L618.3 337.8 L621.1 337.7 L624.0 337.3 L627.2 336.2 L632.4 333.2 L633.4 332.8 L634.4 332.7 L636.0 333.0 L642.8 336.2 L644.9 337.0 L648.9 337.3 L653.3 337.0 L656.1 336.2 L658.5 334.9 L660.7 333.0 L664.8 328.5 L665.8 327.8 L666.8 327.5 L668.1 327.8 L671.9 329.6 L676.7 333.3 L679.2 334.5 L681.3 334.8 L683.5 334.7 L685.5 334.2 L687.2 333.3" stroke="#a6cee3" stroke-width="2.0" stroke-dasharray="7.4 3.2"/>
<path d="M48.8 339.4 L55.1 339.4 L57.7 339.2 L59.7 338.6 L63.3 337.0 L65.0 336.7 L67.5 337.1 L72.2 338.7 L74.7 339.2 L80.5 339.4 L86.5 339.2 L88.3 338.8 L90.0 338.1 L91.6 337.0 L94.8 334.1 L95.6 333.7 L96.5 333.5 L97.2 333.6 L98.2 334.1 L102.9 337.5 L105.0 338.7 L107.7 339.3 L109.3 339.3 L110.6 339.2 L111.9 338.6 L113.6 337.5 L120.4 331.6 L122.5 328.6 L126.2 321.8 L127.1 320.7 L127.9 320.3 L128.5 320.4 L129.3 320.8 L133.0 323.9 L134.3 325.5 L137.3 330.3 L139.2 332.3 L140.4 332.9 L141.7 333.1 L143.0 332.9 L144.5 332.3 L146.7 330.4 L148.6 327.5 L150.3 323.8 L151.9 318.7 L153.3 313.1 L154.6 306.1 L158.9 278.8 L159.8 274.9 L160.2 273.9 L160.7 273.6 L161.1 274.0 L161.5 275.0 L162.4 279.5 L165.6 304.5 L167.2 314.9 L168.8 322.7 L170.6 329.0 L171.6 331.7 L172.7 333.8 L173.8 335.3 L175.1 336.3 L176.6 337.0 L178.5 337.2 L180.4 336.9 L182.4 336.2 L183.8 335.3 L185.1 334.2 L186.3 332.8 L187.4 331.1 L189.4 326.5 L191.1 320.7 L192.5 313.8 L193.9 305.1 L198.0 270.9 L198.8 266.9 L199.2 265.7 L199.6 265.3 L199.9 265.6 L200.2 266.4 L201.0 270.4 L204.1 299.0 L205.0 305.7 L206.0 311.4 L207.4 317.7 L208.8 322.1 L210.2 324.6 L210.8 325.3 L211.6 325.5 L212.4 325.4 L213.1 325.0 L214.8 323.3 L216.4 320.7 L218.0 317.2 L219.3 313.2 L220.7 308.2 L225.3 288.0 L226.4 284.9 L226.9 284.1 L227.4 283.8 L227.9 284.1 L228.4 284.9 L229.4 288.1 L234.0 311.6 L235.4 317.4 L236.9 322.1 L238.6 325.4 L239.3 326.5 L240.2 327.2 L241.0 327.6 L241.9 327.6 L242.7 327.2 L243.6 326.5 L245.0 324.7 L246.3 322.4 L247.5 319.3 L248.7 315.6 L251.0 306.1 L255.2 284.4 L256.3 280.7 L256.8 279.9 L257.2 279.7 L257.6 280.0 L258.1 281.0 L259.1 284.6 L263.4 311.7 L264.8 318.8 L266.3 324.2 L267.9 328.6 L268.7 330.2 L269.6 331.3 L270.4 332.0 L271.4 332.4 L272.3 332.3 L273.3 331.8 L275.2 330.0 L277.0 327.2 L278.7 323.6 L280.2 319.0 L281.5 313.7 L282.9 307.1 L287.3 281.3 L288.3 277.5 L288.8 276.5 L289.3 276.2 L289.7 276.5 L290.1 277.3 L290.9 280.5 L295.9 311.2 L297.8 320.3 L299.7 326.8 L301.5 330.8 L302.5 332.3 L303.6 333.5 L304.9 334.4 L306.4 335.1 L308.4 335.8 L310.4 336.2 L312.7 336.1 L313.8 335.7 L314.8 335.1 L316.6 333.1 L320.2 328.2 L321.1 327.4 L322.1 327.1 L323.3 327.4 L326.2 329.1 L327.9 330.4 L332.2 334.0 L333.8 335.0 L335.5 335.7 L337.8 336.2 L339.6 336.2 L341.8 335.5 L344.6 334.2 L346.1 333.3 L347.3 332.3 L348.3 331.1 L349.2 329.7 L351.1 325.3 L354.9 313.8 L355.9 311.9 L356.4 311.5 L356.9 311.4 L357.5 311.6 L358.2 312.2 L362.4 317.3 L363.7 319.5 L366.9 326.2 L368.9 329.4 L371.4 331.8 L372.8 332.7 L374.4 333.3 L375.9 333.5 L377.2 333.3 L378.4 332.6 L379.6 331.4 L380.7 329.7 L381.8 327.6 L386.0 317.5 L387.1 315.9 L388.1 315.5 L389.2 316.0 L391.2 318.1 L394.3 320.7 L395.6 322.3 L398.9 327.5 L401.1 330.1 L403.9 332.2 L407.8 334.0 L412.3 335.5 L417.4 336.7 L421.2 337.3 L423.6 337.2 L425.1 336.6 L426.4 335.6 L427.9 333.8 L431.0 329.2 L431.9 328.3 L432.9 328.1 L434.0 328.6 L435.6 329.8 L439.6 334.2 L441.7 336.2 L442.6 336.8 L443.4 336.9 L445.1 336.0 L447.0 333.9 L455.5 320.0 L456.8 318.3 L458.0 317.5 L458.9 317.4 L459.7 317.7 L462.4 320.1 L463.3 320.7 L464.2 320.9 L466.3 320.8 L467.4 321.2 L468.5 322.2 L471.5 325.7 L473.0 326.8 L473.9 327.1 L474.6 327.1 L476.2 326.4 L477.9 324.5 L479.6 321.5 L481.1 317.8 L484.2 309.3 L485.5 306.4 L486.8 304.5 L488.0 303.7 L489.1 303.9 L490.3 305.1 L491.7 307.1 L495.4 313.4 L496.4 314.7 L497.4 315.3 L498.3 315.1 L499.1 314.0 L502.3 306.0 L503.0 304.9 L503.6 304.5 L504.1 304.6 L504.7 305.1 L507.4 309.6 L508.1 310.5 L508.8 311.0 L509.6 311.0 L510.4 310.6 L514.0 306.7 L514.9 306.1 L515.8 305.9 L516.6 306.2 L517.5 306.8 L521.4 311.0 L522.3 311.5 L523.1 311.6 L524.3 310.9 L525.4 309.4 L526.7 306.7 L530.1 297.7 L531.2 296.0 L531.7 295.7 L532.2 295.6 L533.0 296.1 L533.7 297.2 L537.0 304.7 L538.6 306.9 L539.2 307.4 L540.0 307.5 L543.0 306.3 L543.7 306.3 L544.4 306.6 L546.0 308.1 L549.0 312.6 L550.3 314.2 L551.6 315.2 L552.3 315.3 L552.9 315.2 L553.7 314.7 L554.3 313.8 L555.7 311.1 L557.1 306.6 L560.5 293.7 L561.5 291.2 L562.0 290.6 L562.6 290.3 L563.0 290.4 L563.4 290.8 L564.2 292.5 L567.6 303.0 L569.1 306.3 L570.2 307.4 L572.6 308.1 L573.7 309.0 L575.1 310.8 L578.7 317.2 L580.6 320.0 L581.8 321.3 L582.9 322.0 L583.9 322.4 L584.9 322.4 L586.3 321.7 L587.6 320.2 L588.7 317.7 L589.8 314.3 L592.1 304.4 L596.0 281.5 L596.9 278.0 L597.3 277.2 L597.7 276.9 L598.1 277.1 L598.5 277.9 L599.3 281.1 L603.2 305.5 L604.4 311.5 L606.0 317.5 L608.0 323.2 L609.9 327.2 L611.9 329.9 L614.3 331.6 L616.5 332.4 L618.5 332.2 L620.2 331.1 L621.7 329.1 L623.1 326.2 L624.4 322.4 L628.9 306.0 L629.9 303.7 L630.5 303.1 L631.0 302.8 L631.6 303.0 L632.1 303.5 L634.9 307.4 L637.5 308.9 L638.6 310.1 L639.9 312.6 L643.6 322.0 L644.9 324.4 L646.2 326.3 L647.9 328.1 L650.0 329.8 L652.9 331.5 L655.3 332.6 L656.5 332.9 L657.4 332.9 L658.3 332.5 L659.1 331.9 L660.6 329.7 L663.9 323.4 L664.8 322.4 L665.6 322.1 L666.9 322.6 L670.1 325.2 L674.6 330.0 L676.3 331.4 L678.4 332.4 L679.4 332.5 L680.5 332.3 L682.3 331.2 L684.0 329.3 L685.6 326.3 L687.2 322.4" stroke="#1f78b4" stroke-width="2.0" stroke-dasharray="1.9 1.8"/>
<path d="M48.8 339.5 L180.3 339.5 L189.3 339.3 L191.2 338.8 L192.7 338.1 L194.1 337.1 L195.3 335.5 L196.4 333.7 L197.5 331.3 L201.3 321.2 L202.1 319.8 L203.0 319.3 L203.5 319.5 L204.0 320.0 L205.2 322.0 L209.4 332.4 L211.1 335.6 L212.1 337.0 L213.2 337.9 L214.4 338.6 L215.8 339.1 L219.7 339.5 L232.7 339.5 L235.3 339.4 L237.6 339.1 L244.8 337.4 L247.5 336.5 L250.4 334.8 L255.3 331.2 L256.4 330.7 L257.3 330.5 L258.6 330.7 L261.0 331.7 L264.0 332.6 L269.2 335.2 L271.0 335.6 L272.8 335.5 L274.8 335.0 L276.6 334.0 L278.3 332.4 L279.9 330.3 L281.4 327.7 L282.8 324.6 L287.6 311.7 L288.7 309.8 L289.3 309.3 L289.8 309.1 L290.4 309.3 L290.9 309.8 L293.6 313.0 L295.9 314.5 L297.0 315.5 L298.2 317.4 L301.2 323.5 L303.0 326.1 L304.0 327.0 L305.0 327.5 L306.1 327.8 L307.2 327.7 L308.2 327.4 L309.0 326.8 L310.6 324.8 L312.1 321.7 L313.5 317.6 L314.8 312.5 L316.0 306.1 L320.2 280.6 L321.1 277.0 L321.6 276.1 L322.0 275.8 L322.3 276.0 L322.7 276.8 L323.6 280.1 L327.7 307.9 L329.4 316.0 L331.4 323.0 L333.2 327.8 L334.3 329.7 L335.3 331.1 L336.5 332.2 L337.7 333.0 L339.3 333.7 L340.9 334.0 L343.0 333.9 L344.9 332.9 L346.6 330.9 L348.1 328.0 L349.4 324.3 L350.8 319.5 L355.2 300.0 L356.3 297.0 L356.8 296.3 L357.3 296.1 L357.8 296.3 L358.4 296.9 L360.5 300.7 L361.3 301.8 L362.2 302.4 L364.1 303.0 L365.2 304.3 L366.4 307.1 L369.6 317.7 L371.5 322.4 L372.7 324.6 L373.9 326.4 L375.5 328.0 L377.2 329.4 L378.5 330.1 L379.6 330.4 L380.6 330.2 L381.5 329.5 L383.1 327.2 L386.5 320.2 L387.4 319.1 L388.3 318.7 L389.3 319.1 L391.8 321.1 L395.4 323.1 L400.3 327.8 L402.3 329.4 L403.4 329.9 L404.5 330.2 L405.6 330.1 L406.5 329.7 L407.9 328.5 L409.4 326.5 L410.8 323.9 L412.2 320.6 L414.6 312.3 L419.4 291.6 L420.7 288.0 L421.3 287.1 L422.0 286.8 L422.8 287.2 L423.5 288.2 L426.8 295.4 L427.6 296.7 L428.3 297.3 L429.0 297.3 L429.7 296.6 L431.8 292.7 L432.4 291.7 L433.1 291.5 L433.7 292.1 L434.3 293.4 L435.0 295.8 L438.1 310.5 L440.1 317.3 L441.4 320.6 L442.9 323.1 L444.3 324.8 L445.6 325.5 L446.5 325.2 L447.3 324.4 L451.0 317.6 L451.9 316.6 L452.8 316.3 L453.8 316.7 L455.9 318.7 L456.9 319.4 L458.2 319.6 L461.0 319.3 L462.4 319.6 L463.9 320.3 L468.2 323.1 L470.9 324.2 L473.1 324.4 L475.3 324.0 L477.4 323.0 L481.3 320.4 L482.3 320.0 L483.1 319.9 L484.6 320.5 L487.5 323.0 L490.0 323.5 L490.8 323.9 L493.7 326.5 L494.8 327.3 L496.4 327.5 L498.2 326.9 L499.9 325.5 L501.5 323.5 L503.0 321.0 L504.4 317.6 L507.0 309.2 L511.9 289.2 L513.0 286.0 L513.6 285.2 L514.1 284.9 L514.7 285.2 L515.3 286.1 L516.5 289.7 L521.0 311.2 L523.4 320.2 L524.6 323.5 L525.7 325.7 L526.8 327.1 L528.0 327.7 L528.6 327.7 L529.3 327.5 L530.8 326.2 L532.3 323.8 L533.7 320.5 L535.0 316.8 L536.4 312.0 L541.3 291.4 L542.5 288.0 L543.2 287.1 L543.8 286.8 L544.5 287.0 L545.2 287.8 L547.0 291.8 L551.1 303.1 L555.1 316.6 L556.9 321.6 L558.7 325.0 L559.8 326.0 L560.7 326.4 L561.7 326.4 L562.7 325.6 L563.7 324.4 L564.7 322.5 L566.5 317.5 L570.4 304.3 L571.5 301.7 L572.6 300.4 L573.1 300.1 L573.6 300.2 L574.6 301.0 L575.7 302.8 L579.0 309.3 L580.0 310.6 L580.9 311.1 L581.8 310.8 L582.7 309.4 L585.9 301.8 L586.6 301.0 L587.3 301.0 L587.9 301.6 L588.6 302.8 L591.0 309.0 L592.1 311.2 L593.4 312.7 L594.0 313.0 L594.6 313.0 L595.8 312.2 L597.0 310.2 L598.2 306.9 L601.3 297.3 L602.2 295.5 L603.2 294.7 L604.0 295.1 L604.9 296.5 L608.4 305.8 L609.3 307.5 L610.0 308.6 L610.9 309.0 L611.7 308.8 L612.6 307.9 L615.1 304.4 L616.0 303.8 L616.8 304.0 L617.7 304.8 L618.5 306.1 L622.1 313.5 L624.0 316.8 L625.0 318.0 L626.0 318.7 L627.0 319.0 L627.8 318.8 L628.7 318.0 L629.4 316.8 L631.0 312.7 L632.5 306.3 L635.9 288.6 L636.8 285.5 L637.3 284.6 L637.7 284.4 L638.1 284.5 L638.5 285.0 L639.4 287.1 L642.6 300.9 L644.0 305.2 L644.6 306.1 L645.2 306.5 L645.8 306.5 L647.6 306.0 L648.3 306.2 L648.8 306.8 L650.1 309.0 L653.7 317.2 L655.0 319.2 L656.2 320.4 L657.5 320.8 L658.7 320.3 L659.8 319.1 L660.9 316.9 L662.8 310.7 L666.7 294.2 L667.8 291.5 L668.3 290.8 L668.8 290.5 L669.5 290.9 L670.4 292.3 L673.9 302.6 L674.8 304.4 L675.5 305.4 L676.3 305.7 L677.1 305.3 L679.4 301.8 L680.2 301.1 L681.1 301.0 L681.8 301.6 L683.2 304.4 L687.2 315.4" stroke="#b2df8a" stroke-width="1.9" stroke-dasharray="11.3 2.6 2.2 2.6"/>
<path d="M48.8 339.5 L178.0 339.5 L183.5 339.4 L187.6 338.9 L190.1 338.2 L192.0 337.2 L193.7 335.7 L195.2 333.8 L196.4 331.3 L197.6 328.3 L201.6 315.4 L202.4 313.8 L203.3 313.2 L203.9 313.5 L204.5 314.1 L206.1 317.2 L207.5 320.8 L210.4 329.3 L212.2 333.1 L213.3 334.7 L214.5 335.8 L215.9 336.6 L217.7 337.2 L220.7 337.6 L222.9 337.2 L224.6 336.3 L228.0 333.5 L229.0 333.0 L229.8 332.9 L231.2 333.2 L234.2 334.8 L236.9 336.0 L240.3 337.1 L243.9 337.7 L253.1 338.5 L255.3 338.5 L259.7 338.0 L267.0 338.2 L273.2 338.0 L277.1 337.3 L283.2 335.5 L285.3 335.1 L292.3 336.2 L297.4 337.4 L299.5 337.5 L301.6 337.2 L303.7 336.7 L305.5 335.8 L307.2 334.6 L308.8 333.1 L311.5 329.2 L316.0 320.7 L317.0 319.4 L317.9 318.9 L318.6 318.9 L319.3 319.3 L321.6 321.4 L324.1 323.3 L325.4 324.7 L328.5 328.8 L329.5 329.8 L330.6 330.5 L332.1 331.0 L333.8 331.0 L335.3 330.3 L336.7 329.0 L338.0 327.2 L339.2 324.9 L341.4 318.6 L343.6 309.3 L347.8 286.7 L348.9 283.0 L349.5 282.0 L350.0 281.7 L350.8 282.3 L351.6 284.3 L355.3 298.2 L358.4 306.9 L362.0 318.5 L363.9 323.3 L366.0 326.5 L368.5 328.9 L372.8 331.7 L374.7 332.6 L376.1 332.9 L377.7 332.6 L379.1 331.4 L380.5 329.2 L383.6 322.7 L384.5 321.5 L385.4 321.1 L386.7 321.6 L389.6 324.2 L394.7 330.1 L396.9 331.9 L398.4 332.5 L399.8 332.5 L401.2 332.0 L402.6 330.9 L403.7 329.6 L404.8 327.7 L406.9 322.7 L409.0 315.4 L413.4 296.8 L414.7 293.5 L415.3 292.7 L415.9 292.4 L416.3 292.5 L416.8 292.9 L417.9 294.8 L421.7 304.5 L423.5 308.4 L424.9 310.6 L426.1 311.6 L426.7 311.6 L427.3 311.2 L428.5 308.8 L429.6 304.8 L432.0 293.9 L432.7 291.8 L433.3 290.8 L433.6 290.6 L434.0 290.8 L434.8 292.1 L437.4 300.6 L438.5 303.4 L439.5 304.8 L440.5 305.3 L441.5 304.8 L442.6 303.2 L443.8 300.3 L446.5 292.3 L447.3 290.7 L448.1 290.2 L448.5 290.4 L449.0 291.1 L450.1 293.7 L453.1 306.7 L454.3 311.0 L455.4 313.6 L456.5 314.9 L457.7 315.1 L460.6 314.5 L462.2 314.9 L463.8 316.0 L466.8 319.1 L468.9 320.9 L472.0 323.2 L473.6 323.9 L474.7 323.6 L475.7 322.5 L476.8 320.4 L479.4 314.2 L480.2 313.0 L480.9 312.5 L481.9 312.9 L484.1 315.1 L485.2 315.9 L489.3 316.9 L493.4 319.7 L494.7 320.4 L495.9 320.6 L497.0 320.5 L498.3 319.6 L499.5 318.2 L500.7 316.0 L501.8 313.2 L503.9 305.6 L507.9 287.3 L508.9 284.2 L509.4 283.4 L509.8 283.2 L510.2 283.3 L510.8 284.1 L511.7 286.9 L516.0 309.3 L517.5 314.9 L519.0 319.5 L520.8 323.6 L522.7 326.1 L523.7 326.9 L524.7 327.4 L525.8 327.5 L526.9 327.4 L528.7 326.2 L530.4 324.2 L532.0 321.2 L533.6 317.1 L534.9 312.5 L536.3 306.7 L540.9 283.2 L542.0 279.4 L542.5 278.6 L543.1 278.3 L543.6 278.6 L544.2 279.7 L545.3 283.7 L550.3 312.4 L551.6 319.1 L553.0 324.4 L554.3 328.4 L555.9 331.5 L557.5 333.5 L559.4 334.6 L560.4 334.7 L561.4 334.6 L562.4 334.1 L563.4 333.4 L565.3 331.2 L569.4 325.2 L570.5 324.2 L571.5 323.8 L572.6 324.1 L575.1 325.7 L578.6 327.3 L583.3 331.3 L585.9 332.9 L587.5 333.6 L588.9 333.9 L590.2 333.9 L591.4 333.5 L593.1 332.3 L594.8 330.1 L596.5 326.7 L600.4 317.4 L601.5 315.8 L602.1 315.4 L602.6 315.2 L603.7 315.6 L606.1 318.0 L609.3 320.3 L610.6 322.0 L614.3 327.5 L615.6 329.1 L617.0 330.2 L619.1 331.5 L621.2 332.2 L623.0 332.2 L624.5 331.5 L626.0 330.1 L627.2 328.1 L628.5 325.2 L629.7 321.4 L631.9 311.5 L636.0 287.8 L637.0 284.0 L637.5 283.0 L638.0 282.6 L638.3 282.7 L638.8 283.1 L639.6 285.1 L643.8 301.4 L645.0 304.7 L646.1 306.4 L646.6 306.6 L647.0 306.5 L647.7 305.6 L648.6 303.6 L650.7 297.1 L651.4 295.9 L652.0 295.6 L652.6 296.1 L653.3 297.4 L655.8 305.2 L657.1 308.2 L657.7 309.1 L658.4 309.7 L659.1 309.8 L659.9 309.5 L661.1 308.1 L662.3 305.4 L666.6 292.5 L667.4 291.1 L667.8 290.9 L668.3 290.9 L669.0 291.6 L669.9 293.5 L673.4 306.3 L674.4 308.8 L675.3 310.6 L676.7 312.0 L679.4 313.0 L680.7 313.8 L685.1 318.0 L687.2 319.5" stroke="#33a02c" stroke-width="2.0" stroke-dasharray="9.5 2.5 2 1.6 2 2.8"/>
<path d="M48.8 339.5 L151.7 339.5 L155.8 339.2 L160.7 337.8 L162.6 337.5 L165.3 337.8 L170.8 339.0 L173.8 339.4 L190.8 339.5 L193.4 339.1 L195.5 338.2 L197.3 336.7 L200.6 333.0 L201.4 332.4 L202.2 332.2 L203.0 332.4 L204.1 333.1 L207.8 336.9 L209.3 338.1 L210.8 338.9 L212.6 339.2 L216.9 339.2 L226.4 338.6 L239.5 339.1 L244.0 339.0 L248.5 338.5 L254.8 336.7 L257.0 336.4 L263.7 337.2 L269.2 338.2 L272.8 338.3 L276.1 337.9 L279.1 336.8 L281.7 335.1 L286.2 331.1 L287.2 330.5 L288.2 330.3 L289.5 330.6 L294.0 332.4 L298.3 335.0 L300.3 335.8 L303.0 336.4 L305.7 336.4 L308.0 335.8 L310.0 334.5 L311.9 332.5 L313.5 329.8 L314.9 326.6 L316.3 322.6 L320.9 305.9 L322.0 303.4 L322.5 302.9 L323.0 302.7 L323.5 302.9 L324.0 303.3 L326.5 306.9 L328.7 308.9 L329.6 310.1 L330.9 312.7 L333.8 320.6 L335.3 324.0 L337.1 326.9 L339.4 328.9 L343.2 330.9 L352.0 334.1 L353.5 333.9 L356.1 332.4 L357.3 332.1 L363.2 333.2 L365.3 333.3 L367.0 333.2 L368.4 332.8 L369.8 332.0 L371.1 331.0 L372.2 329.7 L374.4 326.1 L376.4 321.1 L378.0 315.4 L379.6 307.9 L384.3 279.6 L385.1 276.3 L385.6 275.3 L386.0 275.0 L386.4 275.3 L386.8 276.2 L387.7 279.8 L391.8 310.8 L393.3 318.9 L394.8 325.5 L396.6 331.1 L398.4 334.9 L399.5 336.3 L400.6 337.4 L401.7 338.1 L402.9 338.4 L404.5 338.4 L406.5 337.9 L408.4 337.2 L410.1 336.1 L411.5 334.8 L412.8 333.3 L415.0 329.4 L416.7 324.5 L418.4 318.3 L423.3 292.6 L424.3 289.5 L424.7 288.8 L425.2 288.5 L425.7 288.7 L426.3 289.5 L428.4 294.3 L429.5 296.0 L430.4 296.6 L432.5 296.6 L433.0 297.0 L433.5 297.7 L435.0 302.0 L438.4 316.4 L440.1 321.7 L441.6 324.6 L443.3 327.0 L445.1 328.8 L446.7 329.4 L447.7 329.2 L448.6 328.5 L449.6 327.2 L452.4 322.9 L453.4 322.0 L454.3 321.7 L455.4 322.1 L458.3 323.9 L459.4 324.2 L461.9 324.4 L463.4 324.8 L469.7 328.0 L476.0 330.3 L480.9 332.4 L481.8 332.4 L482.5 332.2 L485.1 330.6 L486.2 330.1 L487.4 330.2 L490.5 331.1 L492.8 331.2 L496.2 330.8 L498.7 329.7 L500.5 328.2 L502.1 326.3 L503.6 323.7 L505.2 320.4 L506.5 316.6 L508.0 311.7 L513.2 290.9 L514.7 287.4 L515.3 286.5 L516.1 286.2 L517.0 286.5 L518.1 287.9 L520.6 292.2 L522.0 295.3 L523.7 300.5 L527.2 315.6 L529.0 321.8 L530.1 324.5 L531.2 326.5 L532.3 327.8 L533.4 328.3 L534.1 328.2 L534.7 327.9 L536.1 326.5 L537.5 324.0 L541.2 316.1 L542.4 314.5 L543.5 313.9 L544.1 314.0 L544.7 314.4 L547.2 317.0 L548.3 317.8 L549.4 317.9 L551.9 317.3 L553.2 317.7 L554.6 318.9 L557.9 323.4 L559.6 325.2 L560.5 325.9 L561.4 326.2 L562.3 326.3 L563.1 326.0 L564.6 324.6 L566.0 322.0 L569.9 311.2 L571.0 308.6 L572.0 307.0 L573.0 306.5 L573.7 306.7 L574.3 307.3 L577.3 311.6 L578.0 312.3 L578.7 312.7 L579.3 312.7 L580.0 312.3 L582.7 309.7 L583.5 309.6 L584.2 309.8 L585.5 311.5 L588.7 317.5 L590.3 319.9 L591.2 320.9 L592.1 321.4 L592.9 321.6 L593.7 321.5 L594.3 321.0 L595.0 320.2 L596.4 317.6 L597.8 313.3 L601.5 299.9 L602.6 297.4 L603.1 296.8 L603.6 296.6 L604.0 296.7 L604.5 297.0 L605.5 298.6 L610.2 309.9 L611.8 313.2 L613.5 316.0 L615.4 318.7 L617.1 320.5 L618.4 321.4 L619.5 321.4 L620.3 320.8 L621.0 319.8 L622.2 316.2 L623.5 310.5 L626.6 293.4 L627.5 290.3 L627.9 289.6 L628.3 289.4 L628.8 289.6 L629.3 290.4 L631.6 295.9 L632.7 297.6 L633.3 298.0 L633.9 297.9 L635.9 296.6 L636.6 296.4 L637.3 296.7 L638.0 297.6 L639.4 301.5 L642.3 312.8 L643.6 317.1 L645.0 320.4 L645.7 321.3 L646.4 321.8 L647.4 321.7 L648.4 320.9 L649.5 319.3 L652.8 313.5 L653.9 312.2 L655.0 311.7 L656.0 311.8 L657.1 312.5 L661.2 317.7 L662.2 318.5 L662.9 318.8 L663.7 318.6 L664.4 318.0 L667.5 312.9 L668.2 312.1 L668.9 311.8 L669.5 311.9 L670.2 312.3 L673.4 316.6 L674.3 317.4 L675.1 317.7 L676.1 317.5 L677.0 316.8 L680.7 311.5 L681.6 310.6 L682.4 310.1 L683.4 310.0 L684.5 310.4 L685.6 311.5 L687.2 313.3" stroke="#e31a1c" stroke-width="2.1" stroke-dasharray="5.5 1.8 1.9 1.9"/>
</g>
<g stroke="#000" stroke-width="2.0" fill="none">
<rect x="49.5" y="35.0" width="634.3" height="76.1"/>
<rect x="49.5" y="111.1" width="634.3" height="76.30000000000001"/>
<rect x="49.5" y="187.4" width="634.3" height="76.4"/>
<rect x="49.5" y="263.8" width="634.3" height="76.09999999999997"/>
</g>
<g stroke="#000" stroke-width="1.8" fill="none">
<line x1="49.50" y1="111.1" x2="49.50" y2="119.7"/>
<line x1="197.38" y1="111.1" x2="197.38" y2="119.7"/>
<line x1="345.26" y1="111.1" x2="345.26" y2="119.7"/>
<line x1="493.14" y1="111.1" x2="493.14" y2="119.7"/>
<line x1="641.02" y1="111.1" x2="641.02" y2="119.7"/>
<line x1="49.50" y1="187.4" x2="49.50" y2="196.0"/>
<line x1="197.38" y1="187.4" x2="197.38" y2="196.0"/>
<line x1="345.26" y1="187.4" x2="345.26" y2="196.0"/>
<line x1="493.14" y1="187.4" x2="493.14" y2="196.0"/>
<line x1="641.02" y1="187.4" x2="641.02" y2="196.0"/>
<line x1="49.50" y1="263.8" x2="49.50" y2="272.4"/>
<line x1="197.38" y1="263.8" x2="197.38" y2="272.4"/>
<line x1="345.26" y1="263.8" x2="345.26" y2="272.4"/>
<line x1="493.14" y1="263.8" x2="493.14" y2="272.4"/>
<line x1="641.02" y1="263.8" x2="641.02" y2="272.4"/>
<line x1="49.50" y1="339.9" x2="49.50" y2="348.5"/>
<line x1="197.38" y1="339.9" x2="197.38" y2="348.5"/>
<line x1="345.26" y1="339.9" x2="345.26" y2="348.5"/>
<line x1="493.14" y1="339.9" x2="493.14" y2="348.5"/>
<line x1="641.02" y1="339.9" x2="641.02" y2="348.5"/>
<line x1="40.9" y1="53.70" x2="49.5" y2="53.70"/>
<line x1="40.9" y1="73.10" x2="49.5" y2="73.10"/>
<line x1="40.9" y1="92.50" x2="49.5" y2="92.50"/>
<line x1="40.9" y1="127.67" x2="49.5" y2="127.67"/>
<line x1="40.9" y1="149.30" x2="49.5" y2="149.30"/>
<line x1="40.9" y1="170.93" x2="49.5" y2="170.93"/>
<line x1="40.9" y1="190.19" x2="49.5" y2="190.19"/>
<line x1="40.9" y1="217.00" x2="49.5" y2="217.00"/>
<line x1="40.9" y1="243.81" x2="49.5" y2="243.81"/>
<line x1="40.9" y1="280.15" x2="49.5" y2="280.15"/>
<line x1="40.9" y1="300.15" x2="49.5" y2="300.15"/>
<line x1="40.9" y1="320.15" x2="49.5" y2="320.15"/>
<line x1="40.9" y1="340.15" x2="49.5" y2="340.15"/>
</g>
<text class="t" transform="translate(38 58.85) scale(1 1.06)" text-anchor="end">10</text>
<text class="t" transform="translate(38 78.25) scale(1 1.06)" text-anchor="end">0</text>
<text class="t" transform="translate(38 97.65) scale(1 1.06)" text-anchor="end">-10</text>
<text class="t" transform="translate(38 132.82) scale(1 1.06)" text-anchor="end">15</text>
<text class="t" transform="translate(38 154.45) scale(1 1.06)" text-anchor="end">0</text>
<text class="t" transform="translate(38 176.08) scale(1 1.06)" text-anchor="end">-15</text>
<text class="t" transform="translate(38 195.34) scale(1 1.06)" text-anchor="end">45</text>
<text class="t" transform="translate(38 222.15) scale(1 1.06)" text-anchor="end">30</text>
<text class="t" transform="translate(38 248.96) scale(1 1.06)" text-anchor="end">15</text>
<text class="t" transform="translate(38 285.30) scale(1 1.06)" text-anchor="end">24</text>
<text class="t" transform="translate(38 305.30) scale(1 1.06)" text-anchor="end">16</text>
<text class="t" transform="translate(38 325.30) scale(1 1.06)" text-anchor="end">8</text>
<text class="t" transform="translate(38 345.30) scale(1 1.06)" text-anchor="end">0</text>
<text class="t" transform="translate(49.50 361.6) scale(1 1.06)" text-anchor="middle">0</text>
<text class="t" transform="translate(197.38 361.6) scale(1 1.06)" text-anchor="middle">4</text>
<text class="t" transform="translate(345.26 361.6) scale(1 1.06)" text-anchor="middle">8</text>
<text class="t" transform="translate(493.14 361.6) scale(1 1.06)" text-anchor="middle">12</text>
<text class="t" transform="translate(641.02 361.6) scale(1 1.06)" text-anchor="middle">16</text>
<g transform="translate(11.0 102.70) rotate(-90)"><text x="0.55" y="0.00" font-family="Liberation Serif" font-size="15" font-style="italic" textLength="10.18" lengthAdjust="spacingAndGlyphs">X</text><text x="11.40" y="1.90" font-family="Liberation Serif" font-size="10" font-style="normal">1</text><text x="17.30" y="0.00" font-family="Liberation Serif" font-size="16" font-style="normal">(</text><text x="22.50" y="0.00" font-family="Liberation Serif" font-size="15" font-style="italic" textLength="7.7" lengthAdjust="spacingAndGlyphs">λ</text><text x="29.35" y="2.80" font-family="Liberation Serif" font-size="11" font-style="italic" textLength="20.0" lengthAdjust="spacingAndGlyphs">max</text><text x="49.40" y="0.00" font-family="Liberation Serif" font-size="16" font-style="italic" textLength="5.4" lengthAdjust="spacingAndGlyphs">t</text><text x="54.70" y="0.00" font-family="Liberation Serif" font-size="16" font-style="normal">)</text></g>
<g transform="translate(11.0 178.90) rotate(-90)"><text x="0.55" y="0.00" font-family="Liberation Serif" font-size="15" font-style="italic" textLength="10.18" lengthAdjust="spacingAndGlyphs">X</text><text x="11.40" y="1.90" font-family="Liberation Serif" font-size="10" font-style="normal">2</text><text x="17.30" y="0.00" font-family="Liberation Serif" font-size="16" font-style="normal">(</text><text x="22.50" y="0.00" font-family="Liberation Serif" font-size="15" font-style="italic" textLength="7.7" lengthAdjust="spacingAndGlyphs">λ</text><text x="29.35" y="2.80" font-family="Liberation Serif" font-size="11" font-style="italic" textLength="20.0" lengthAdjust="spacingAndGlyphs">max</text><text x="49.40" y="0.00" font-family="Liberation Serif" font-size="16" font-style="italic" textLength="5.4" lengthAdjust="spacingAndGlyphs">t</text><text x="54.70" y="0.00" font-family="Liberation Serif" font-size="16" font-style="normal">)</text></g>
<g transform="translate(11.0 255.25) rotate(-90)"><text x="0.55" y="0.00" font-family="Liberation Serif" font-size="15" font-style="italic" textLength="10.18" lengthAdjust="spacingAndGlyphs">X</text><text x="11.40" y="1.90" font-family="Liberation Serif" font-size="10" font-style="normal">3</text><text x="17.30" y="0.00" font-family="Liberation Serif" font-size="16" font-style="normal">(</text><text x="22.50" y="0.00" font-family="Liberation Serif" font-size="15" font-style="italic" textLength="7.7" lengthAdjust="spacingAndGlyphs">λ</text><text x="29.35" y="2.80" font-family="Liberation Serif" font-size="11" font-style="italic" textLength="20.0" lengthAdjust="spacingAndGlyphs">max</text><text x="49.40" y="0.00" font-family="Liberation Serif" font-size="16" font-style="italic" textLength="5.4" lengthAdjust="spacingAndGlyphs">t</text><text x="54.70" y="0.00" font-family="Liberation Serif" font-size="16" font-style="normal">)</text></g>
<text class="t" transform="translate(10.6 300.9) rotate(-90)" text-anchor="middle">RMSE</text>
<g><text x="350.60" y="377.80" font-family="Liberation Serif" font-size="15" font-style="italic" textLength="7.7" lengthAdjust="spacingAndGlyphs">λ</text><text x="357.15" y="380.60" font-family="Liberation Serif" font-size="11" font-style="italic" textLength="20.0" lengthAdjust="spacingAndGlyphs">max</text><text x="377.00" y="377.80" font-family="Liberation Serif" font-size="16" font-style="italic" textLength="5.4" lengthAdjust="spacingAndGlyphs">t</text></g>
<rect x="108.6" y="0.5" width="515.9" height="24.5" rx="2.5" fill="#fff" fill-opacity="0.8" stroke="#d6d6d6" stroke-width="1"/>
<line x1="113.0" y1="11.5" x2="145.0" y2="11.5" stroke="#000000" stroke-width="3.0"/>
<text class="t" transform="translate(148.0 16.8) scale(1 1.075)">Test</text>
<line x1="190.0" y1="11.5" x2="218.5" y2="11.5" stroke="#a6cee3" stroke-width="2.0" stroke-dasharray="7.4 3.2"/>
<text class="t" transform="translate(223.5 16.8) scale(1 1.075)">RNN</text>
<line x1="271.0" y1="11.5" x2="299.5" y2="11.5" stroke="#1f78b4" stroke-width="2.0" stroke-dasharray="1.9 1.8"/>
<text class="t" transform="translate(304.2 16.8) scale(1 1.075)">LSTM</text>
<line x1="359.0" y1="11.5" x2="389.0" y2="11.5" stroke="#b2df8a" stroke-width="1.9" stroke-dasharray="11.3 2.6 2.2 2.6"/>
<text class="t" transform="translate(392.8 16.8) scale(1 1.075)">RC</text>
<line x1="429.4" y1="11.5" x2="459.2" y2="11.5" stroke="#33a02c" stroke-width="2.0" stroke-dasharray="9.5 2.5 2 1.6 2 2.8"/>
<text class="t" transform="translate(463.0 16.8) scale(1 1.075)">NG-RC</text>
<line x1="526.7" y1="11.5" x2="554.5" y2="11.5" stroke="#e31a1c" stroke-width="2.1" stroke-dasharray="5.5 1.8 1.9 1.9"/>
<text class="t" transform="translate(560.5 16.8) scale(1 1.075)">TreeDOX</text>
</svg></body></html>
